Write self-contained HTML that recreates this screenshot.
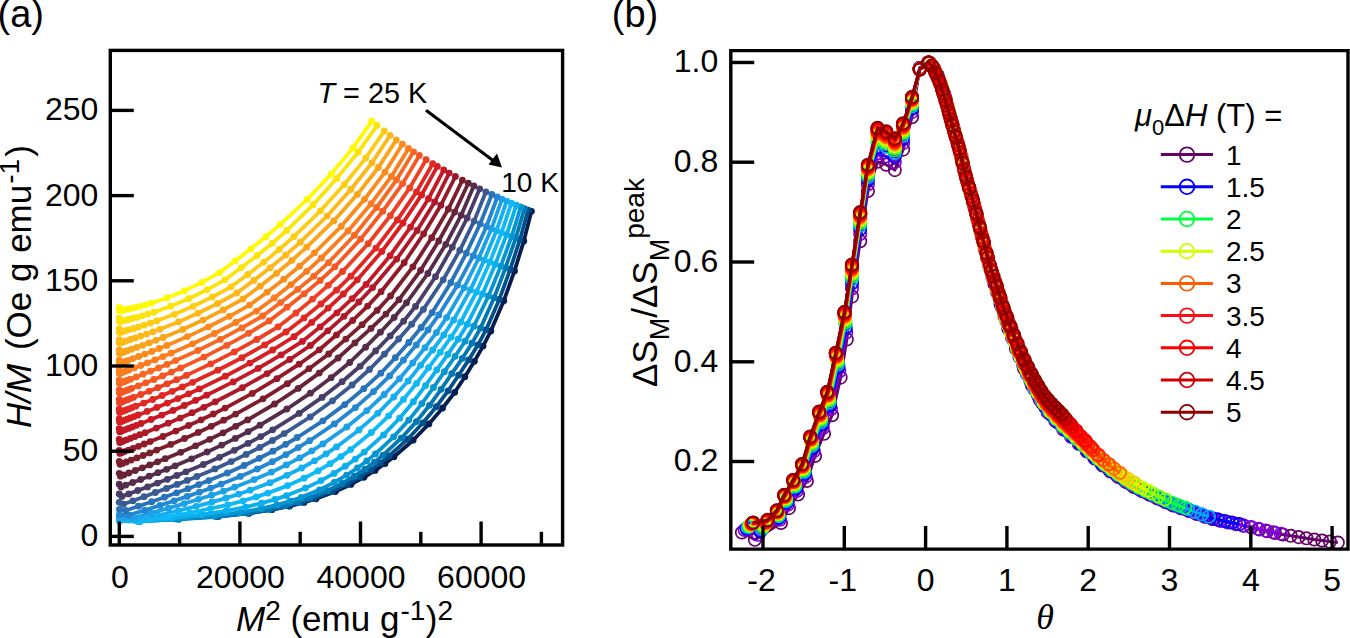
<!DOCTYPE html>
<html><head><meta charset="utf-8"><style>
html,body{margin:0;padding:0;background:#fff;width:1350px;height:638px;overflow:hidden}
svg{display:block}
</style></head><body>
<svg width="1350" height="638" viewBox="0 0 1350 638">
<rect width="1350" height="638" fill="#fff"/>
<g stroke-linejoin="round" stroke-linecap="round">
<path d="M119.4 516.8 L134.8 519.7 L173.3 518.4 L215.8 516.3 L248.4 513.2 L271.9 509.7 L289.7 506.1 L304 502.4 L316 498.8 L335.4 491.5 L350.9 484.4 L363.9 477.3 L375.1 470.4 L385 463.5 L394 456.8 L413.1 440.2 L428.9 423.9 L442.6 408 L454.7 392.3 L464.9 376.7 L474.4 361.3 L483.1 346.1 L490.8 331 L503.8 300.8 L514.5 270.9 L523.8 241.1 L531.4 211.3" fill="none" stroke="#051e50" stroke-width="3.8"/>
<g fill="#051e50"><circle cx="119.4" cy="516.8" r="3.4"/><circle cx="134.8" cy="519.7" r="3.4"/><circle cx="173.3" cy="518.4" r="3.4"/><circle cx="215.8" cy="516.3" r="3.4"/><circle cx="248.4" cy="513.2" r="3.4"/><circle cx="271.9" cy="509.7" r="3.4"/><circle cx="289.7" cy="506.1" r="3.4"/><circle cx="304" cy="502.4" r="3.4"/><circle cx="316" cy="498.8" r="3.4"/><circle cx="335.4" cy="491.5" r="3.4"/><circle cx="350.9" cy="484.4" r="3.4"/><circle cx="363.9" cy="477.3" r="3.4"/><circle cx="375.1" cy="470.4" r="3.4"/><circle cx="385" cy="463.5" r="3.4"/><circle cx="394" cy="456.8" r="3.4"/><circle cx="413.1" cy="440.2" r="3.4"/><circle cx="428.9" cy="423.9" r="3.4"/><circle cx="442.6" cy="408" r="3.4"/><circle cx="454.7" cy="392.3" r="3.4"/><circle cx="464.9" cy="376.7" r="3.4"/><circle cx="474.4" cy="361.3" r="3.4"/><circle cx="483.1" cy="346.1" r="3.4"/><circle cx="490.8" cy="331" r="3.4"/><circle cx="503.8" cy="300.8" r="3.4"/><circle cx="514.5" cy="270.9" r="3.4"/><circle cx="523.8" cy="241.1" r="3.4"/><circle cx="531.4" cy="211.3" r="3.4"/></g>
<path d="M119.4 517.3 L135.8 520.2 L175.7 518.8 L218 516.5 L249.3 513.3 L271.6 509.7 L288.6 506 L302.2 502.3 L313.7 498.5 L332.4 491.2 L347.3 484 L359.9 476.8 L370.8 469.8 L380.4 462.9 L389 456 L407.6 439.2 L423 422.8 L436.3 406.7 L448.1 390.8 L458.6 375.2 L468.7 359.9 L478 344.8 L486.1 329.7 L499.3 299.4 L510.2 269.4 L519.9 239.7 L528.2 210.1" fill="none" stroke="#00508c" stroke-width="3.8"/>
<g fill="#00508c"><circle cx="119.4" cy="517.3" r="3.4"/><circle cx="135.8" cy="520.2" r="3.4"/><circle cx="175.7" cy="518.8" r="3.4"/><circle cx="218" cy="516.5" r="3.4"/><circle cx="249.3" cy="513.3" r="3.4"/><circle cx="271.6" cy="509.7" r="3.4"/><circle cx="288.6" cy="506" r="3.4"/><circle cx="302.2" cy="502.3" r="3.4"/><circle cx="313.7" cy="498.5" r="3.4"/><circle cx="332.4" cy="491.2" r="3.4"/><circle cx="347.3" cy="484" r="3.4"/><circle cx="359.9" cy="476.8" r="3.4"/><circle cx="370.8" cy="469.8" r="3.4"/><circle cx="380.4" cy="462.9" r="3.4"/><circle cx="389" cy="456" r="3.4"/><circle cx="407.6" cy="439.2" r="3.4"/><circle cx="423" cy="422.8" r="3.4"/><circle cx="436.3" cy="406.7" r="3.4"/><circle cx="448.1" cy="390.8" r="3.4"/><circle cx="458.6" cy="375.2" r="3.4"/><circle cx="468.7" cy="359.9" r="3.4"/><circle cx="478" cy="344.8" r="3.4"/><circle cx="486.1" cy="329.7" r="3.4"/><circle cx="499.3" cy="299.4" r="3.4"/><circle cx="510.2" cy="269.4" r="3.4"/><circle cx="519.9" cy="239.7" r="3.4"/><circle cx="528.2" cy="210.1" r="3.4"/></g>
<path d="M119.4 518.5 L138 521.2 L178.9 519.3 L218.7 516.6 L247.7 513.1 L268.8 509.4 L285 505.6 L298.2 501.9 L309.3 498.1 L327.5 490.7 L342.1 483.4 L354.4 476.2 L365.1 469.1 L374.5 462.1 L383 455.1 L401.2 438.2 L416.4 421.6 L429.5 405.3 L441.1 389.3 L451.8 373.6 L462.3 358.3 L472 343.2 L480.5 328.1 L494.1 297.8 L505.5 267.8 L515.7 238.1 L524.5 208.6" fill="none" stroke="#0078b4" stroke-width="3.8"/>
<g fill="#0078b4"><circle cx="119.4" cy="518.5" r="3.4"/><circle cx="138" cy="521.2" r="3.4"/><circle cx="178.9" cy="519.3" r="3.4"/><circle cx="218.7" cy="516.6" r="3.4"/><circle cx="247.7" cy="513.1" r="3.4"/><circle cx="268.8" cy="509.4" r="3.4"/><circle cx="285" cy="505.6" r="3.4"/><circle cx="298.2" cy="501.9" r="3.4"/><circle cx="309.3" cy="498.1" r="3.4"/><circle cx="327.5" cy="490.7" r="3.4"/><circle cx="342.1" cy="483.4" r="3.4"/><circle cx="354.4" cy="476.2" r="3.4"/><circle cx="365.1" cy="469.1" r="3.4"/><circle cx="374.5" cy="462.1" r="3.4"/><circle cx="383" cy="455.1" r="3.4"/><circle cx="401.2" cy="438.2" r="3.4"/><circle cx="416.4" cy="421.6" r="3.4"/><circle cx="429.5" cy="405.3" r="3.4"/><circle cx="441.1" cy="389.3" r="3.4"/><circle cx="451.8" cy="373.6" r="3.4"/><circle cx="462.3" cy="358.3" r="3.4"/><circle cx="472" cy="343.2" r="3.4"/><circle cx="480.5" cy="328.1" r="3.4"/><circle cx="494.1" cy="297.8" r="3.4"/><circle cx="505.5" cy="267.8" r="3.4"/><circle cx="515.7" cy="238.1" r="3.4"/><circle cx="524.5" cy="208.6" r="3.4"/></g>
<path d="M119.4 519.4 L139.3 521.7 L177.8 519.2 L213.5 516 L240.6 512.4 L261 508.7 L277.1 504.9 L290.2 501.1 L301.3 497.3 L319.6 489.8 L334.3 482.4 L346.6 475.1 L357.4 468 L366.8 460.9 L375.4 453.9 L393.6 436.8 L408.8 420.1 L421.9 403.6 L433.5 387.5 L444.4 371.7 L455.1 356.3 L465.1 341.2 L473.9 326.2 L488.5 296 L500.8 266.1 L511.6 236.6 L520.7 207" fill="none" stroke="#0596d2" stroke-width="3.8"/>
<g fill="#0596d2"><circle cx="119.4" cy="519.4" r="3.4"/><circle cx="139.3" cy="521.7" r="3.4"/><circle cx="177.8" cy="519.2" r="3.4"/><circle cx="213.5" cy="516" r="3.4"/><circle cx="240.6" cy="512.4" r="3.4"/><circle cx="261" cy="508.7" r="3.4"/><circle cx="277.1" cy="504.9" r="3.4"/><circle cx="290.2" cy="501.1" r="3.4"/><circle cx="301.3" cy="497.3" r="3.4"/><circle cx="319.6" cy="489.8" r="3.4"/><circle cx="334.3" cy="482.4" r="3.4"/><circle cx="346.6" cy="475.1" r="3.4"/><circle cx="357.4" cy="468" r="3.4"/><circle cx="366.8" cy="460.9" r="3.4"/><circle cx="375.4" cy="453.9" r="3.4"/><circle cx="393.6" cy="436.8" r="3.4"/><circle cx="408.8" cy="420.1" r="3.4"/><circle cx="421.9" cy="403.6" r="3.4"/><circle cx="433.5" cy="387.5" r="3.4"/><circle cx="444.4" cy="371.7" r="3.4"/><circle cx="455.1" cy="356.3" r="3.4"/><circle cx="465.1" cy="341.2" r="3.4"/><circle cx="473.9" cy="326.2" r="3.4"/><circle cx="488.5" cy="296" r="3.4"/><circle cx="500.8" cy="266.1" r="3.4"/><circle cx="511.6" cy="236.6" r="3.4"/><circle cx="520.7" cy="207" r="3.4"/></g>
<path d="M119.5 520.3 L139.5 521.7 L172.4 518.3 L202 514.6 L226.2 510.9 L245.7 507.1 L261.6 503.2 L275 499.4 L286.5 495.6 L305.5 488.1 L321 480.6 L334 473.4 L345.3 466.2 L355.3 459.1 L364.3 452.1 L383.6 434.9 L399.6 418.2 L413.4 401.7 L425.5 385.6 L436.8 369.8 L447.8 354.4 L458.2 339.2 L467.3 324.2 L482.5 294 L495.3 264.2 L506.6 234.6 L516.3 205.2" fill="none" stroke="#0aafeb" stroke-width="3.8"/>
<g fill="#0aafeb"><circle cx="119.5" cy="520.3" r="3.4"/><circle cx="139.5" cy="521.7" r="3.4"/><circle cx="172.4" cy="518.3" r="3.4"/><circle cx="202" cy="514.6" r="3.4"/><circle cx="226.2" cy="510.9" r="3.4"/><circle cx="245.7" cy="507.1" r="3.4"/><circle cx="261.6" cy="503.2" r="3.4"/><circle cx="275" cy="499.4" r="3.4"/><circle cx="286.5" cy="495.6" r="3.4"/><circle cx="305.5" cy="488.1" r="3.4"/><circle cx="321" cy="480.6" r="3.4"/><circle cx="334" cy="473.4" r="3.4"/><circle cx="345.3" cy="466.2" r="3.4"/><circle cx="355.3" cy="459.1" r="3.4"/><circle cx="364.3" cy="452.1" r="3.4"/><circle cx="383.6" cy="434.9" r="3.4"/><circle cx="399.6" cy="418.2" r="3.4"/><circle cx="413.4" cy="401.7" r="3.4"/><circle cx="425.5" cy="385.6" r="3.4"/><circle cx="436.8" cy="369.8" r="3.4"/><circle cx="447.8" cy="354.4" r="3.4"/><circle cx="458.2" cy="339.2" r="3.4"/><circle cx="467.3" cy="324.2" r="3.4"/><circle cx="482.5" cy="294" r="3.4"/><circle cx="495.3" cy="264.2" r="3.4"/><circle cx="506.6" cy="234.6" r="3.4"/><circle cx="516.3" cy="205.2" r="3.4"/></g>
<path d="M119.5 521.2 L138.8 521.5 L165.8 517.1 L189.8 512.8 L210.3 508.7 L227.9 504.8 L243.1 500.8 L256.3 496.9 L267.9 493.1 L287.7 485.6 L304 478.2 L318 470.9 L330.1 463.7 L340.9 456.6 L350.6 449.6 L371.4 432.5 L388.7 415.8 L403.5 399.4 L416.6 383.3 L428.6 367.6 L440.3 352.2 L451.1 337.2 L460.7 322.1 L476.5 292 L489.8 262.1 L501.5 232.6 L511.4 203.2" fill="none" stroke="#0fb9f5" stroke-width="3.8"/>
<g fill="#0fb9f5"><circle cx="119.5" cy="521.2" r="3.4"/><circle cx="138.8" cy="521.5" r="3.4"/><circle cx="165.8" cy="517.1" r="3.4"/><circle cx="189.8" cy="512.8" r="3.4"/><circle cx="210.3" cy="508.7" r="3.4"/><circle cx="227.9" cy="504.8" r="3.4"/><circle cx="243.1" cy="500.8" r="3.4"/><circle cx="256.3" cy="496.9" r="3.4"/><circle cx="267.9" cy="493.1" r="3.4"/><circle cx="287.7" cy="485.6" r="3.4"/><circle cx="304" cy="478.2" r="3.4"/><circle cx="318" cy="470.9" r="3.4"/><circle cx="330.1" cy="463.7" r="3.4"/><circle cx="340.9" cy="456.6" r="3.4"/><circle cx="350.6" cy="449.6" r="3.4"/><circle cx="371.4" cy="432.5" r="3.4"/><circle cx="388.7" cy="415.8" r="3.4"/><circle cx="403.5" cy="399.4" r="3.4"/><circle cx="416.6" cy="383.3" r="3.4"/><circle cx="428.6" cy="367.6" r="3.4"/><circle cx="440.3" cy="352.2" r="3.4"/><circle cx="451.1" cy="337.2" r="3.4"/><circle cx="460.7" cy="322.1" r="3.4"/><circle cx="476.5" cy="292" r="3.4"/><circle cx="489.8" cy="262.1" r="3.4"/><circle cx="501.5" cy="232.6" r="3.4"/><circle cx="511.4" cy="203.2" r="3.4"/></g>
<path d="M119.5 520.5 L136 520.3 L158.4 515.3 L178.4 510.7 L196.2 506.3 L211.9 502.1 L226 498.1 L238.6 494.1 L250.1 490.2 L270 482.7 L286.9 475.3 L301.6 468 L314.5 460.8 L326.1 453.8 L336.5 446.9 L359 429.9 L377.7 413.3 L393.8 397 L408 381.1 L420.6 365.3 L432.7 350 L443.8 334.9 L453.7 319.9 L470.4 289.9 L484.3 260.1 L496.5 230.6 L506.7 201.1" fill="none" stroke="#14aff0" stroke-width="3.8"/>
<g fill="#14aff0"><circle cx="119.5" cy="520.5" r="3.4"/><circle cx="136" cy="520.3" r="3.4"/><circle cx="158.4" cy="515.3" r="3.4"/><circle cx="178.4" cy="510.7" r="3.4"/><circle cx="196.2" cy="506.3" r="3.4"/><circle cx="211.9" cy="502.1" r="3.4"/><circle cx="226" cy="498.1" r="3.4"/><circle cx="238.6" cy="494.1" r="3.4"/><circle cx="250.1" cy="490.2" r="3.4"/><circle cx="270" cy="482.7" r="3.4"/><circle cx="286.9" cy="475.3" r="3.4"/><circle cx="301.6" cy="468" r="3.4"/><circle cx="314.5" cy="460.8" r="3.4"/><circle cx="326.1" cy="453.8" r="3.4"/><circle cx="336.5" cy="446.9" r="3.4"/><circle cx="359" cy="429.9" r="3.4"/><circle cx="377.7" cy="413.3" r="3.4"/><circle cx="393.8" cy="397" r="3.4"/><circle cx="408" cy="381.1" r="3.4"/><circle cx="420.6" cy="365.3" r="3.4"/><circle cx="432.7" cy="350" r="3.4"/><circle cx="443.8" cy="334.9" r="3.4"/><circle cx="453.7" cy="319.9" r="3.4"/><circle cx="470.4" cy="289.9" r="3.4"/><circle cx="484.3" cy="260.1" r="3.4"/><circle cx="496.5" cy="230.6" r="3.4"/><circle cx="506.7" cy="201.1" r="3.4"/></g>
<path d="M119.4 518.2 L132.2 518.1 L151.1 513 L168.4 508.2 L184.2 503.6 L198.5 499.3 L211.5 495.2 L223.5 491.2 L234.5 487.2 L254.2 479.6 L271.3 472.2 L286.3 464.9 L299.8 457.8 L311.9 450.8 L322.9 443.9 L346.8 427 L366.9 410.6 L384.2 394.5 L399.5 378.7 L412.7 363 L425 347.7 L436.4 332.6 L446.6 317.6 L464.1 287.7 L478.8 258 L491.5 228.6 L502 199.1" fill="none" stroke="#1ea0e6" stroke-width="3.8"/>
<g fill="#1ea0e6"><circle cx="119.4" cy="518.2" r="3.4"/><circle cx="132.2" cy="518.1" r="3.4"/><circle cx="151.1" cy="513" r="3.4"/><circle cx="168.4" cy="508.2" r="3.4"/><circle cx="184.2" cy="503.6" r="3.4"/><circle cx="198.5" cy="499.3" r="3.4"/><circle cx="211.5" cy="495.2" r="3.4"/><circle cx="223.5" cy="491.2" r="3.4"/><circle cx="234.5" cy="487.2" r="3.4"/><circle cx="254.2" cy="479.6" r="3.4"/><circle cx="271.3" cy="472.2" r="3.4"/><circle cx="286.3" cy="464.9" r="3.4"/><circle cx="299.8" cy="457.8" r="3.4"/><circle cx="311.9" cy="450.8" r="3.4"/><circle cx="322.9" cy="443.9" r="3.4"/><circle cx="346.8" cy="427" r="3.4"/><circle cx="366.9" cy="410.6" r="3.4"/><circle cx="384.2" cy="394.5" r="3.4"/><circle cx="399.5" cy="378.7" r="3.4"/><circle cx="412.7" cy="363" r="3.4"/><circle cx="425" cy="347.7" r="3.4"/><circle cx="436.4" cy="332.6" r="3.4"/><circle cx="446.6" cy="317.6" r="3.4"/><circle cx="464.1" cy="287.7" r="3.4"/><circle cx="478.8" cy="258" r="3.4"/><circle cx="491.5" cy="228.6" r="3.4"/><circle cx="502" cy="199.1" r="3.4"/></g>
<path d="M119.3 514.6 L128.8 515.1 L144.6 510.2 L159.9 505.4 L174.1 500.8 L187.2 496.4 L199.3 492.2 L210.6 488.1 L221.2 484.1 L240.3 476.4 L257.2 469 L272.3 461.7 L285.9 454.6 L298.2 447.6 L309.6 440.7 L334.4 423.9 L355.4 407.6 L373.6 391.6 L389.7 375.9 L403.4 360.2 L416.3 344.9 L428.1 329.9 L438.8 314.9 L457.5 285.2 L473.2 255.8 L486.5 226.5 L497.3 197" fill="none" stroke="#2387d2" stroke-width="3.8"/>
<g fill="#2387d2"><circle cx="119.3" cy="514.6" r="3.4"/><circle cx="128.8" cy="515.1" r="3.4"/><circle cx="144.6" cy="510.2" r="3.4"/><circle cx="159.9" cy="505.4" r="3.4"/><circle cx="174.1" cy="500.8" r="3.4"/><circle cx="187.2" cy="496.4" r="3.4"/><circle cx="199.3" cy="492.2" r="3.4"/><circle cx="210.6" cy="488.1" r="3.4"/><circle cx="221.2" cy="484.1" r="3.4"/><circle cx="240.3" cy="476.4" r="3.4"/><circle cx="257.2" cy="469" r="3.4"/><circle cx="272.3" cy="461.7" r="3.4"/><circle cx="285.9" cy="454.6" r="3.4"/><circle cx="298.2" cy="447.6" r="3.4"/><circle cx="309.6" cy="440.7" r="3.4"/><circle cx="334.4" cy="423.9" r="3.4"/><circle cx="355.4" cy="407.6" r="3.4"/><circle cx="373.6" cy="391.6" r="3.4"/><circle cx="389.7" cy="375.9" r="3.4"/><circle cx="403.4" cy="360.2" r="3.4"/><circle cx="416.3" cy="344.9" r="3.4"/><circle cx="428.1" cy="329.9" r="3.4"/><circle cx="438.8" cy="314.9" r="3.4"/><circle cx="457.5" cy="285.2" r="3.4"/><circle cx="473.2" cy="255.8" r="3.4"/><circle cx="486.5" cy="226.5" r="3.4"/><circle cx="497.3" cy="197" r="3.4"/></g>
<path d="M119.3 509.3 L125.7 510.5 L138.3 506.2 L151.7 501.7 L164.5 497.2 L176.6 492.8 L188 488.7 L198.7 484.6 L208.8 480.6 L227.4 473 L244.1 465.5 L259.2 458.3 L272.9 451.2 L285.6 444.3 L297.2 437.5 L322.9 420.8 L344.7 404.6 L363.8 388.7 L380.8 373.2 L395.3 357.7 L408.8 342.5 L421.2 327.5 L432.2 312.6 L450.8 282.7 L466.4 253.1 L480.2 223.8 L491.8 194.5" fill="none" stroke="#2873b9" stroke-width="3.8"/>
<g fill="#2873b9"><circle cx="119.3" cy="509.3" r="3.4"/><circle cx="125.7" cy="510.5" r="3.4"/><circle cx="138.3" cy="506.2" r="3.4"/><circle cx="151.7" cy="501.7" r="3.4"/><circle cx="164.5" cy="497.2" r="3.4"/><circle cx="176.6" cy="492.8" r="3.4"/><circle cx="188" cy="488.7" r="3.4"/><circle cx="198.7" cy="484.6" r="3.4"/><circle cx="208.8" cy="480.6" r="3.4"/><circle cx="227.4" cy="473" r="3.4"/><circle cx="244.1" cy="465.5" r="3.4"/><circle cx="259.2" cy="458.3" r="3.4"/><circle cx="272.9" cy="451.2" r="3.4"/><circle cx="285.6" cy="444.3" r="3.4"/><circle cx="297.2" cy="437.5" r="3.4"/><circle cx="322.9" cy="420.8" r="3.4"/><circle cx="344.7" cy="404.6" r="3.4"/><circle cx="363.8" cy="388.7" r="3.4"/><circle cx="380.8" cy="373.2" r="3.4"/><circle cx="395.3" cy="357.7" r="3.4"/><circle cx="408.8" cy="342.5" r="3.4"/><circle cx="421.2" cy="327.5" r="3.4"/><circle cx="432.2" cy="312.6" r="3.4"/><circle cx="450.8" cy="282.7" r="3.4"/><circle cx="466.4" cy="253.1" r="3.4"/><circle cx="480.2" cy="223.8" r="3.4"/><circle cx="491.8" cy="194.5" r="3.4"/></g>
<path d="M119.2 502.3 L123.4 504.2 L132.9 500.8 L144.1 496.7 L155.4 492.5 L166.5 488.4 L177.1 484.4 L187.2 480.4 L196.9 476.5 L214.9 468.9 L231.2 461.6 L246.1 454.4 L259.8 447.4 L272.5 440.5 L284.2 433.6 L310.2 417 L332.5 400.8 L352.1 385 L369.5 369.5 L384.5 354.1 L398.7 339 L411.7 324.2 L423.4 309.4 L443.2 279.8 L459.8 250.3 L474.1 221.1 L485.9 191.8" fill="none" stroke="#3a5a94" stroke-width="3.8"/>
<g fill="#3a5a94"><circle cx="119.2" cy="502.3" r="3.4"/><circle cx="123.4" cy="504.2" r="3.4"/><circle cx="132.9" cy="500.8" r="3.4"/><circle cx="144.1" cy="496.7" r="3.4"/><circle cx="155.4" cy="492.5" r="3.4"/><circle cx="166.5" cy="488.4" r="3.4"/><circle cx="177.1" cy="484.4" r="3.4"/><circle cx="187.2" cy="480.4" r="3.4"/><circle cx="196.9" cy="476.5" r="3.4"/><circle cx="214.9" cy="468.9" r="3.4"/><circle cx="231.2" cy="461.6" r="3.4"/><circle cx="246.1" cy="454.4" r="3.4"/><circle cx="259.8" cy="447.4" r="3.4"/><circle cx="272.5" cy="440.5" r="3.4"/><circle cx="284.2" cy="433.6" r="3.4"/><circle cx="310.2" cy="417" r="3.4"/><circle cx="332.5" cy="400.8" r="3.4"/><circle cx="352.1" cy="385" r="3.4"/><circle cx="369.5" cy="369.5" r="3.4"/><circle cx="384.5" cy="354.1" r="3.4"/><circle cx="398.7" cy="339" r="3.4"/><circle cx="411.7" cy="324.2" r="3.4"/><circle cx="423.4" cy="309.4" r="3.4"/><circle cx="443.2" cy="279.8" r="3.4"/><circle cx="459.8" cy="250.3" r="3.4"/><circle cx="474.1" cy="221.1" r="3.4"/><circle cx="485.9" cy="191.8" r="3.4"/></g>
<path d="M119.2 494 L121.9 496.4 L128.8 493.9 L137.8 490.5 L147.6 486.9 L157.5 483.1 L167.3 479.3 L176.8 475.5 L186 471.8 L203.4 464.5 L219.5 457.3 L234.3 450.3 L248 443.4 L260.7 436.6 L272.6 429.8 L299.1 413.4 L322 397.4 L342.1 381.7 L360.1 366.3 L375.6 350.9 L390.2 335.9 L403.6 321.2 L415.5 306.4 L435.5 276.7 L452.3 247.1 L467.2 218 L479.7 188.8" fill="none" stroke="#483e69" stroke-width="3.8"/>
<g fill="#483e69"><circle cx="119.2" cy="494" r="3.4"/><circle cx="121.9" cy="496.4" r="3.4"/><circle cx="128.8" cy="493.9" r="3.4"/><circle cx="137.8" cy="490.5" r="3.4"/><circle cx="147.6" cy="486.9" r="3.4"/><circle cx="157.5" cy="483.1" r="3.4"/><circle cx="167.3" cy="479.3" r="3.4"/><circle cx="176.8" cy="475.5" r="3.4"/><circle cx="186" cy="471.8" r="3.4"/><circle cx="203.4" cy="464.5" r="3.4"/><circle cx="219.5" cy="457.3" r="3.4"/><circle cx="234.3" cy="450.3" r="3.4"/><circle cx="248" cy="443.4" r="3.4"/><circle cx="260.7" cy="436.6" r="3.4"/><circle cx="272.6" cy="429.8" r="3.4"/><circle cx="299.1" cy="413.4" r="3.4"/><circle cx="322" cy="397.4" r="3.4"/><circle cx="342.1" cy="381.7" r="3.4"/><circle cx="360.1" cy="366.3" r="3.4"/><circle cx="375.6" cy="350.9" r="3.4"/><circle cx="390.2" cy="335.9" r="3.4"/><circle cx="403.6" cy="321.2" r="3.4"/><circle cx="415.5" cy="306.4" r="3.4"/><circle cx="435.5" cy="276.7" r="3.4"/><circle cx="452.3" cy="247.1" r="3.4"/><circle cx="467.2" cy="218" r="3.4"/><circle cx="479.7" cy="188.8" r="3.4"/></g>
<path d="M119.2 484.2 L121 487 L125.8 485.1 L132.7 482.5 L140.7 479.5 L149.2 476.2 L157.9 472.7 L166.6 469.3 L175.1 465.8 L191.6 458.8 L207.1 452 L221.7 445.1 L235.3 438.4 L248.1 431.7 L260 425.2 L286.9 409 L310.4 393.2 L331.1 377.7 L349.7 362.5 L365.6 347.2 L380.4 332.2 L394.1 317.5 L406.5 302.8 L427.9 273.5 L445.8 244.3 L461.2 215.2 L473.8 185.9" fill="none" stroke="#552d4b" stroke-width="3.8"/>
<g fill="#552d4b"><circle cx="119.2" cy="484.2" r="3.4"/><circle cx="121" cy="487" r="3.4"/><circle cx="125.8" cy="485.1" r="3.4"/><circle cx="132.7" cy="482.5" r="3.4"/><circle cx="140.7" cy="479.5" r="3.4"/><circle cx="149.2" cy="476.2" r="3.4"/><circle cx="157.9" cy="472.7" r="3.4"/><circle cx="166.6" cy="469.3" r="3.4"/><circle cx="175.1" cy="465.8" r="3.4"/><circle cx="191.6" cy="458.8" r="3.4"/><circle cx="207.1" cy="452" r="3.4"/><circle cx="221.7" cy="445.1" r="3.4"/><circle cx="235.3" cy="438.4" r="3.4"/><circle cx="248.1" cy="431.7" r="3.4"/><circle cx="260" cy="425.2" r="3.4"/><circle cx="286.9" cy="409" r="3.4"/><circle cx="310.4" cy="393.2" r="3.4"/><circle cx="331.1" cy="377.7" r="3.4"/><circle cx="349.7" cy="362.5" r="3.4"/><circle cx="365.6" cy="347.2" r="3.4"/><circle cx="380.4" cy="332.2" r="3.4"/><circle cx="394.1" cy="317.5" r="3.4"/><circle cx="406.5" cy="302.8" r="3.4"/><circle cx="427.9" cy="273.5" r="3.4"/><circle cx="445.8" cy="244.3" r="3.4"/><circle cx="461.2" cy="215.2" r="3.4"/><circle cx="473.8" cy="185.9" r="3.4"/></g>
<path d="M119.2 473.3 L120.4 476.2 L123.8 474.9 L128.9 473 L135.3 470.5 L142.3 467.8 L149.8 464.9 L157.6 461.8 L165.3 458.7 L180.7 452.3 L195.6 445.8 L209.7 439.3 L223.1 432.8 L235.7 426.3 L247.6 419.9 L274.6 404 L298.2 388.4 L319.2 373.1 L338.1 358 L354.9 342.9 L371 328.4 L385.9 314.1 L399 299.7 L420.6 270.3 L438.7 241 L454.7 212.1 L468.3 183.2" fill="none" stroke="#692337" stroke-width="3.8"/>
<g fill="#692337"><circle cx="119.2" cy="473.3" r="3.4"/><circle cx="120.4" cy="476.2" r="3.4"/><circle cx="123.8" cy="474.9" r="3.4"/><circle cx="128.9" cy="473" r="3.4"/><circle cx="135.3" cy="470.5" r="3.4"/><circle cx="142.3" cy="467.8" r="3.4"/><circle cx="149.8" cy="464.9" r="3.4"/><circle cx="157.6" cy="461.8" r="3.4"/><circle cx="165.3" cy="458.7" r="3.4"/><circle cx="180.7" cy="452.3" r="3.4"/><circle cx="195.6" cy="445.8" r="3.4"/><circle cx="209.7" cy="439.3" r="3.4"/><circle cx="223.1" cy="432.8" r="3.4"/><circle cx="235.7" cy="426.3" r="3.4"/><circle cx="247.6" cy="419.9" r="3.4"/><circle cx="274.6" cy="404" r="3.4"/><circle cx="298.2" cy="388.4" r="3.4"/><circle cx="319.2" cy="373.1" r="3.4"/><circle cx="338.1" cy="358" r="3.4"/><circle cx="354.9" cy="342.9" r="3.4"/><circle cx="371" cy="328.4" r="3.4"/><circle cx="385.9" cy="314.1" r="3.4"/><circle cx="399" cy="299.7" r="3.4"/><circle cx="420.6" cy="270.3" r="3.4"/><circle cx="438.7" cy="241" r="3.4"/><circle cx="454.7" cy="212.1" r="3.4"/><circle cx="468.3" cy="183.2" r="3.4"/></g>
<path d="M119.2 461.3 L120 464.3 L122.5 463.4 L126.3 462 L131.2 460.1 L136.9 457.9 L143.1 455.5 L149.8 452.9 L156.7 450.1 L170.7 444.4 L184.6 438.5 L198.2 432.4 L211.2 426.3 L223.7 420.2 L235.6 414.1 L263 398.8 L287.3 383.7 L309 368.7 L328.7 354 L345.8 339.1 L362.1 324.7 L377.1 310.4 L390.5 296 L412.9 266.8 L431.7 237.7 L448.4 209 L462.4 180.2" fill="none" stroke="#7d1e2d" stroke-width="3.8"/>
<g fill="#7d1e2d"><circle cx="119.2" cy="461.3" r="3.4"/><circle cx="120" cy="464.3" r="3.4"/><circle cx="122.5" cy="463.4" r="3.4"/><circle cx="126.3" cy="462" r="3.4"/><circle cx="131.2" cy="460.1" r="3.4"/><circle cx="136.9" cy="457.9" r="3.4"/><circle cx="143.1" cy="455.5" r="3.4"/><circle cx="149.8" cy="452.9" r="3.4"/><circle cx="156.7" cy="450.1" r="3.4"/><circle cx="170.7" cy="444.4" r="3.4"/><circle cx="184.6" cy="438.5" r="3.4"/><circle cx="198.2" cy="432.4" r="3.4"/><circle cx="211.2" cy="426.3" r="3.4"/><circle cx="223.7" cy="420.2" r="3.4"/><circle cx="235.6" cy="414.1" r="3.4"/><circle cx="263" cy="398.8" r="3.4"/><circle cx="287.3" cy="383.7" r="3.4"/><circle cx="309" cy="368.7" r="3.4"/><circle cx="328.7" cy="354" r="3.4"/><circle cx="345.8" cy="339.1" r="3.4"/><circle cx="362.1" cy="324.7" r="3.4"/><circle cx="377.1" cy="310.4" r="3.4"/><circle cx="390.5" cy="296" r="3.4"/><circle cx="412.9" cy="266.8" r="3.4"/><circle cx="431.7" cy="237.7" r="3.4"/><circle cx="448.4" cy="209" r="3.4"/><circle cx="462.4" cy="180.2" r="3.4"/></g>
<path d="M119.2 450.3 L119.8 453.4 L121.7 452.7 L124.6 451.6 L128.6 450.1 L133.2 448.3 L138.5 446.3 L144.2 444 L150.2 441.6 L162.9 436.5 L175.8 431.1 L188.6 425.5 L201.2 419.8 L213.3 414 L225.1 408.1 L252.3 393.4 L276.9 378.7 L299.1 364.2 L319.3 349.8 L336.5 334.9 L352.7 320.5 L367.6 306.1 L381.1 291.7 L404.2 262.7 L423.7 233.8 L440.9 205.2 L455.4 176.5" fill="none" stroke="#961928" stroke-width="3.8"/>
<g fill="#961928"><circle cx="119.2" cy="450.3" r="3.4"/><circle cx="119.8" cy="453.4" r="3.4"/><circle cx="121.7" cy="452.7" r="3.4"/><circle cx="124.6" cy="451.6" r="3.4"/><circle cx="128.6" cy="450.1" r="3.4"/><circle cx="133.2" cy="448.3" r="3.4"/><circle cx="138.5" cy="446.3" r="3.4"/><circle cx="144.2" cy="444" r="3.4"/><circle cx="150.2" cy="441.6" r="3.4"/><circle cx="162.9" cy="436.5" r="3.4"/><circle cx="175.8" cy="431.1" r="3.4"/><circle cx="188.6" cy="425.5" r="3.4"/><circle cx="201.2" cy="419.8" r="3.4"/><circle cx="213.3" cy="414" r="3.4"/><circle cx="225.1" cy="408.1" r="3.4"/><circle cx="252.3" cy="393.4" r="3.4"/><circle cx="276.9" cy="378.7" r="3.4"/><circle cx="299.1" cy="364.2" r="3.4"/><circle cx="319.3" cy="349.8" r="3.4"/><circle cx="336.5" cy="334.9" r="3.4"/><circle cx="352.7" cy="320.5" r="3.4"/><circle cx="367.6" cy="306.1" r="3.4"/><circle cx="381.1" cy="291.7" r="3.4"/><circle cx="404.2" cy="262.7" r="3.4"/><circle cx="423.7" cy="233.8" r="3.4"/><circle cx="440.9" cy="205.2" r="3.4"/><circle cx="455.4" cy="176.5" r="3.4"/></g>
<path d="M119.2 439.3 L119.7 442.5 L121.2 441.9 L123.5 441 L126.7 439.8 L130.5 438.3 L135 436.6 L139.8 434.7 L145.1 432.7 L156.4 428.1 L168.2 423.2 L180.2 418.1 L192.1 412.7 L203.9 407.3 L215.3 401.8 L242.3 387.7 L267.1 373.6 L289.7 359.5 L310.4 345.5 L327.8 330.8 L344 316.3 L358.9 302 L372.6 287.6 L396.7 259.1 L417.1 230.5 L434.7 202 L449.2 173.1" fill="none" stroke="#af1928" stroke-width="3.8"/>
<g fill="#af1928"><circle cx="119.2" cy="439.3" r="3.4"/><circle cx="119.7" cy="442.5" r="3.4"/><circle cx="121.2" cy="441.9" r="3.4"/><circle cx="123.5" cy="441" r="3.4"/><circle cx="126.7" cy="439.8" r="3.4"/><circle cx="130.5" cy="438.3" r="3.4"/><circle cx="135" cy="436.6" r="3.4"/><circle cx="139.8" cy="434.7" r="3.4"/><circle cx="145.1" cy="432.7" r="3.4"/><circle cx="156.4" cy="428.1" r="3.4"/><circle cx="168.2" cy="423.2" r="3.4"/><circle cx="180.2" cy="418.1" r="3.4"/><circle cx="192.1" cy="412.7" r="3.4"/><circle cx="203.9" cy="407.3" r="3.4"/><circle cx="215.3" cy="401.8" r="3.4"/><circle cx="242.3" cy="387.7" r="3.4"/><circle cx="267.1" cy="373.6" r="3.4"/><circle cx="289.7" cy="359.5" r="3.4"/><circle cx="310.4" cy="345.5" r="3.4"/><circle cx="327.8" cy="330.8" r="3.4"/><circle cx="344" cy="316.3" r="3.4"/><circle cx="358.9" cy="302" r="3.4"/><circle cx="372.6" cy="287.6" r="3.4"/><circle cx="396.7" cy="259.1" r="3.4"/><circle cx="417.1" cy="230.5" r="3.4"/><circle cx="434.7" cy="202" r="3.4"/><circle cx="449.2" cy="173.1" r="3.4"/></g>
<path d="M119.2 428.6 L119.6 431.8 L120.8 431.4 L122.7 430.6 L125.3 429.6 L128.5 428.4 L132.3 427 L136.5 425.3 L141.1 423.5 L151.1 419.5 L161.8 415.1 L173 410.4 L184.3 405.5 L195.5 400.4 L206.6 395.2 L233.2 381.9 L258.1 368.4 L281.1 354.9 L302.4 341.4 L320.2 326.9 L336.9 312.8 L352.2 298.6 L366.1 284.4 L390.1 255.7 L410.5 227.1 L428.5 198.7 L443.7 170" fill="none" stroke="#c61926" stroke-width="3.8"/>
<g fill="#c61926"><circle cx="119.2" cy="428.6" r="3.4"/><circle cx="119.6" cy="431.8" r="3.4"/><circle cx="120.8" cy="431.4" r="3.4"/><circle cx="122.7" cy="430.6" r="3.4"/><circle cx="125.3" cy="429.6" r="3.4"/><circle cx="128.5" cy="428.4" r="3.4"/><circle cx="132.3" cy="427" r="3.4"/><circle cx="136.5" cy="425.3" r="3.4"/><circle cx="141.1" cy="423.5" r="3.4"/><circle cx="151.1" cy="419.5" r="3.4"/><circle cx="161.8" cy="415.1" r="3.4"/><circle cx="173" cy="410.4" r="3.4"/><circle cx="184.3" cy="405.5" r="3.4"/><circle cx="195.5" cy="400.4" r="3.4"/><circle cx="206.6" cy="395.2" r="3.4"/><circle cx="233.2" cy="381.9" r="3.4"/><circle cx="258.1" cy="368.4" r="3.4"/><circle cx="281.1" cy="354.9" r="3.4"/><circle cx="302.4" cy="341.4" r="3.4"/><circle cx="320.2" cy="326.9" r="3.4"/><circle cx="336.9" cy="312.8" r="3.4"/><circle cx="352.2" cy="298.6" r="3.4"/><circle cx="366.1" cy="284.4" r="3.4"/><circle cx="390.1" cy="255.7" r="3.4"/><circle cx="410.5" cy="227.1" r="3.4"/><circle cx="428.5" cy="198.7" r="3.4"/><circle cx="443.7" cy="170" r="3.4"/></g>
<path d="M119.2 418.9 L119.5 422.1 L120.5 421.8 L122.2 421.1 L124.4 420.3 L127.1 419.2 L130.4 418 L134.1 416.6 L138.1 415 L147.1 411.4 L156.9 407.4 L167.3 403.1 L177.9 398.6 L188.6 393.8 L199.3 388.9 L225.3 376.2 L249.8 363.1 L272.7 350 L294 336.7 L311.7 322.4 L328.2 308.1 L343.4 294 L357.3 279.8 L381.9 251.4 L403 223 L421.6 194.9 L437.4 166.4" fill="none" stroke="#d71e23" stroke-width="3.8"/>
<g fill="#d71e23"><circle cx="119.2" cy="418.9" r="3.4"/><circle cx="119.5" cy="422.1" r="3.4"/><circle cx="120.5" cy="421.8" r="3.4"/><circle cx="122.2" cy="421.1" r="3.4"/><circle cx="124.4" cy="420.3" r="3.4"/><circle cx="127.1" cy="419.2" r="3.4"/><circle cx="130.4" cy="418" r="3.4"/><circle cx="134.1" cy="416.6" r="3.4"/><circle cx="138.1" cy="415" r="3.4"/><circle cx="147.1" cy="411.4" r="3.4"/><circle cx="156.9" cy="407.4" r="3.4"/><circle cx="167.3" cy="403.1" r="3.4"/><circle cx="177.9" cy="398.6" r="3.4"/><circle cx="188.6" cy="393.8" r="3.4"/><circle cx="199.3" cy="388.9" r="3.4"/><circle cx="225.3" cy="376.2" r="3.4"/><circle cx="249.8" cy="363.1" r="3.4"/><circle cx="272.7" cy="350" r="3.4"/><circle cx="294" cy="336.7" r="3.4"/><circle cx="311.7" cy="322.4" r="3.4"/><circle cx="328.2" cy="308.1" r="3.4"/><circle cx="343.4" cy="294" r="3.4"/><circle cx="357.3" cy="279.8" r="3.4"/><circle cx="381.9" cy="251.4" r="3.4"/><circle cx="403" cy="223" r="3.4"/><circle cx="421.6" cy="194.9" r="3.4"/><circle cx="437.4" cy="166.4" r="3.4"/></g>
<path d="M119.2 409.2 L119.5 412.5 L120.3 412.1 L121.7 411.6 L123.6 410.9 L126 410 L128.8 408.9 L132.1 407.6 L135.7 406.2 L143.7 403.1 L152.7 399.5 L162.2 395.5 L172.2 391.3 L182.3 386.9 L192.6 382.3 L217.8 370.2 L241.9 357.7 L264.7 344.9 L286 332 L304 317.9 L320.9 304 L336.5 290.2 L350.8 276.2 L375.9 248.1 L397.4 219.9 L416.5 191.9 L432.7 163.7" fill="none" stroke="#e12823" stroke-width="3.8"/>
<g fill="#e12823"><circle cx="119.2" cy="409.2" r="3.4"/><circle cx="119.5" cy="412.5" r="3.4"/><circle cx="120.3" cy="412.1" r="3.4"/><circle cx="121.7" cy="411.6" r="3.4"/><circle cx="123.6" cy="410.9" r="3.4"/><circle cx="126" cy="410" r="3.4"/><circle cx="128.8" cy="408.9" r="3.4"/><circle cx="132.1" cy="407.6" r="3.4"/><circle cx="135.7" cy="406.2" r="3.4"/><circle cx="143.7" cy="403.1" r="3.4"/><circle cx="152.7" cy="399.5" r="3.4"/><circle cx="162.2" cy="395.5" r="3.4"/><circle cx="172.2" cy="391.3" r="3.4"/><circle cx="182.3" cy="386.9" r="3.4"/><circle cx="192.6" cy="382.3" r="3.4"/><circle cx="217.8" cy="370.2" r="3.4"/><circle cx="241.9" cy="357.7" r="3.4"/><circle cx="264.7" cy="344.9" r="3.4"/><circle cx="286" cy="332" r="3.4"/><circle cx="304" cy="317.9" r="3.4"/><circle cx="320.9" cy="304" r="3.4"/><circle cx="336.5" cy="290.2" r="3.4"/><circle cx="350.8" cy="276.2" r="3.4"/><circle cx="375.9" cy="248.1" r="3.4"/><circle cx="397.4" cy="219.9" r="3.4"/><circle cx="416.5" cy="191.9" r="3.4"/><circle cx="432.7" cy="163.7" r="3.4"/></g>
<path d="M119.2 399.5 L119.4 402.8 L120.2 402.5 L121.4 402 L123 401.4 L125.1 400.6 L127.6 399.7 L130.4 398.6 L133.6 397.3 L140.8 394.5 L149 391.3 L157.8 387.7 L167.1 383.8 L176.7 379.7 L186.4 375.4 L210.7 363.9 L234.3 351.9 L256.8 339.5 L278 326.9 L295.9 313 L312.6 299.1 L328.2 285.3 L342.6 271.5 L368.2 243.7 L390.3 215.7 L409.7 187.9 L426.1 159.7" fill="none" stroke="#ee4123" stroke-width="3.8"/>
<g fill="#ee4123"><circle cx="119.2" cy="399.5" r="3.4"/><circle cx="119.4" cy="402.8" r="3.4"/><circle cx="120.2" cy="402.5" r="3.4"/><circle cx="121.4" cy="402" r="3.4"/><circle cx="123" cy="401.4" r="3.4"/><circle cx="125.1" cy="400.6" r="3.4"/><circle cx="127.6" cy="399.7" r="3.4"/><circle cx="130.4" cy="398.6" r="3.4"/><circle cx="133.6" cy="397.3" r="3.4"/><circle cx="140.8" cy="394.5" r="3.4"/><circle cx="149" cy="391.3" r="3.4"/><circle cx="157.8" cy="387.7" r="3.4"/><circle cx="167.1" cy="383.8" r="3.4"/><circle cx="176.7" cy="379.7" r="3.4"/><circle cx="186.4" cy="375.4" r="3.4"/><circle cx="210.7" cy="363.9" r="3.4"/><circle cx="234.3" cy="351.9" r="3.4"/><circle cx="256.8" cy="339.5" r="3.4"/><circle cx="278" cy="326.9" r="3.4"/><circle cx="295.9" cy="313" r="3.4"/><circle cx="312.6" cy="299.1" r="3.4"/><circle cx="328.2" cy="285.3" r="3.4"/><circle cx="342.6" cy="271.5" r="3.4"/><circle cx="368.2" cy="243.7" r="3.4"/><circle cx="390.3" cy="215.7" r="3.4"/><circle cx="409.7" cy="187.9" r="3.4"/><circle cx="426.1" cy="159.7" r="3.4"/></g>
<path d="M119.2 389.8 L119.4 393.1 L120 392.8 L121.1 392.4 L122.5 391.9 L124.4 391.2 L126.6 390.4 L129.1 389.4 L131.9 388.3 L138.4 385.8 L145.8 382.8 L153.9 379.5 L162.5 375.9 L171.5 372.1 L180.6 368 L203.9 357.1 L226.7 345.4 L248.5 333.3 L269.2 320.9 L287.1 307.2 L304.2 293.8 L320.2 280.4 L334.9 266.8 L360.6 239.1 L382.8 211.2 L402.6 183.6 L419.4 155.5" fill="none" stroke="#f55823" stroke-width="3.8"/>
<g fill="#f55823"><circle cx="119.2" cy="389.8" r="3.4"/><circle cx="119.4" cy="393.1" r="3.4"/><circle cx="120" cy="392.8" r="3.4"/><circle cx="121.1" cy="392.4" r="3.4"/><circle cx="122.5" cy="391.9" r="3.4"/><circle cx="124.4" cy="391.2" r="3.4"/><circle cx="126.6" cy="390.4" r="3.4"/><circle cx="129.1" cy="389.4" r="3.4"/><circle cx="131.9" cy="388.3" r="3.4"/><circle cx="138.4" cy="385.8" r="3.4"/><circle cx="145.8" cy="382.8" r="3.4"/><circle cx="153.9" cy="379.5" r="3.4"/><circle cx="162.5" cy="375.9" r="3.4"/><circle cx="171.5" cy="372.1" r="3.4"/><circle cx="180.6" cy="368" r="3.4"/><circle cx="203.9" cy="357.1" r="3.4"/><circle cx="226.7" cy="345.4" r="3.4"/><circle cx="248.5" cy="333.3" r="3.4"/><circle cx="269.2" cy="320.9" r="3.4"/><circle cx="287.1" cy="307.2" r="3.4"/><circle cx="304.2" cy="293.8" r="3.4"/><circle cx="320.2" cy="280.4" r="3.4"/><circle cx="334.9" cy="266.8" r="3.4"/><circle cx="360.6" cy="239.1" r="3.4"/><circle cx="382.8" cy="211.2" r="3.4"/><circle cx="402.6" cy="183.6" r="3.4"/><circle cx="419.4" cy="155.5" r="3.4"/></g>
<path d="M119.2 380.1 L119.4 383.4 L119.9 383.2 L120.9 382.8 L122.1 382.3 L123.8 381.7 L125.7 381 L127.9 380.1 L130.5 379.2 L136.3 376.9 L143 374.2 L150.5 371.2 L158.5 368 L166.9 364.4 L175.6 360.6 L197.9 350.5 L220.3 339.4 L241.9 327.9 L262.6 316 L280.6 302.6 L297.7 289.4 L313.8 276.2 L328.5 262.7 L354.4 235.2 L376.7 207.4 L396.6 179.8 L413.6 151.8" fill="none" stroke="#f86923" stroke-width="3.8"/>
<g fill="#f86923"><circle cx="119.2" cy="380.1" r="3.4"/><circle cx="119.4" cy="383.4" r="3.4"/><circle cx="119.9" cy="383.2" r="3.4"/><circle cx="120.9" cy="382.8" r="3.4"/><circle cx="122.1" cy="382.3" r="3.4"/><circle cx="123.8" cy="381.7" r="3.4"/><circle cx="125.7" cy="381" r="3.4"/><circle cx="127.9" cy="380.1" r="3.4"/><circle cx="130.5" cy="379.2" r="3.4"/><circle cx="136.3" cy="376.9" r="3.4"/><circle cx="143" cy="374.2" r="3.4"/><circle cx="150.5" cy="371.2" r="3.4"/><circle cx="158.5" cy="368" r="3.4"/><circle cx="166.9" cy="364.4" r="3.4"/><circle cx="175.6" cy="360.6" r="3.4"/><circle cx="197.9" cy="350.5" r="3.4"/><circle cx="220.3" cy="339.4" r="3.4"/><circle cx="241.9" cy="327.9" r="3.4"/><circle cx="262.6" cy="316" r="3.4"/><circle cx="280.6" cy="302.6" r="3.4"/><circle cx="297.7" cy="289.4" r="3.4"/><circle cx="313.8" cy="276.2" r="3.4"/><circle cx="328.5" cy="262.7" r="3.4"/><circle cx="354.4" cy="235.2" r="3.4"/><circle cx="376.7" cy="207.4" r="3.4"/><circle cx="396.6" cy="179.8" r="3.4"/><circle cx="413.6" cy="151.8" r="3.4"/></g>
<path d="M119.2 370.1 L119.4 373.5 L119.9 373.3 L120.7 373 L121.8 372.6 L123.2 372 L125 371.4 L127 370.6 L129.2 369.8 L134.5 367.8 L140.7 365.5 L147.5 362.8 L155 359.8 L162.9 356.6 L171.1 353.2 L192.6 343.8 L214.4 333.5 L235.8 322.5 L256.5 311.1 L274.2 297.9 L291 284.6 L306.7 271.3 L321.4 257.9 L348 231 L371.1 203.7 L391.4 176.4 L408.5 148.4" fill="none" stroke="#fa7d1e" stroke-width="3.8"/>
<g fill="#fa7d1e"><circle cx="119.2" cy="370.1" r="3.4"/><circle cx="119.4" cy="373.5" r="3.4"/><circle cx="119.9" cy="373.3" r="3.4"/><circle cx="120.7" cy="373" r="3.4"/><circle cx="121.8" cy="372.6" r="3.4"/><circle cx="123.2" cy="372" r="3.4"/><circle cx="125" cy="371.4" r="3.4"/><circle cx="127" cy="370.6" r="3.4"/><circle cx="129.2" cy="369.8" r="3.4"/><circle cx="134.5" cy="367.8" r="3.4"/><circle cx="140.7" cy="365.5" r="3.4"/><circle cx="147.5" cy="362.8" r="3.4"/><circle cx="155" cy="359.8" r="3.4"/><circle cx="162.9" cy="356.6" r="3.4"/><circle cx="171.1" cy="353.2" r="3.4"/><circle cx="192.6" cy="343.8" r="3.4"/><circle cx="214.4" cy="333.5" r="3.4"/><circle cx="235.8" cy="322.5" r="3.4"/><circle cx="256.5" cy="311.1" r="3.4"/><circle cx="274.2" cy="297.9" r="3.4"/><circle cx="291" cy="284.6" r="3.4"/><circle cx="306.7" cy="271.3" r="3.4"/><circle cx="321.4" cy="257.9" r="3.4"/><circle cx="348" cy="231" r="3.4"/><circle cx="371.1" cy="203.7" r="3.4"/><circle cx="391.4" cy="176.4" r="3.4"/><circle cx="408.5" cy="148.4" r="3.4"/></g>
<path d="M119.2 360.2 L119.3 363.6 L119.8 363.4 L120.5 363.1 L121.5 362.8 L122.8 362.3 L124.3 361.8 L126.1 361.1 L128.2 360.4 L133 358.6 L138.6 356.5 L144.9 354.1 L151.8 351.5 L159.2 348.5 L166.9 345.4 L187.4 336.6 L208.4 326.8 L229.3 316.3 L249.5 305.1 L267.1 292.2 L283.8 279.2 L299.6 266.2 L314.4 253 L341.2 226.3 L364.5 199.3 L385 172.1 L402.4 144.2" fill="none" stroke="#fa8c1e" stroke-width="3.8"/>
<g fill="#fa8c1e"><circle cx="119.2" cy="360.2" r="3.4"/><circle cx="119.3" cy="363.6" r="3.4"/><circle cx="119.8" cy="363.4" r="3.4"/><circle cx="120.5" cy="363.1" r="3.4"/><circle cx="121.5" cy="362.8" r="3.4"/><circle cx="122.8" cy="362.3" r="3.4"/><circle cx="124.3" cy="361.8" r="3.4"/><circle cx="126.1" cy="361.1" r="3.4"/><circle cx="128.2" cy="360.4" r="3.4"/><circle cx="133" cy="358.6" r="3.4"/><circle cx="138.6" cy="356.5" r="3.4"/><circle cx="144.9" cy="354.1" r="3.4"/><circle cx="151.8" cy="351.5" r="3.4"/><circle cx="159.2" cy="348.5" r="3.4"/><circle cx="166.9" cy="345.4" r="3.4"/><circle cx="187.4" cy="336.6" r="3.4"/><circle cx="208.4" cy="326.8" r="3.4"/><circle cx="229.3" cy="316.3" r="3.4"/><circle cx="249.5" cy="305.1" r="3.4"/><circle cx="267.1" cy="292.2" r="3.4"/><circle cx="283.8" cy="279.2" r="3.4"/><circle cx="299.6" cy="266.2" r="3.4"/><circle cx="314.4" cy="253" r="3.4"/><circle cx="341.2" cy="226.3" r="3.4"/><circle cx="364.5" cy="199.3" r="3.4"/><circle cx="385" cy="172.1" r="3.4"/><circle cx="402.4" cy="144.2" r="3.4"/></g>
<path d="M119.2 350 L119.3 353.4 L119.7 353.3 L120.4 353.1 L121.3 352.7 L122.4 352.4 L123.8 351.9 L125.4 351.3 L127.3 350.7 L131.6 349.2 L136.8 347.4 L142.6 345.3 L149 342.9 L155.9 340.3 L163.2 337.5 L182.7 329.4 L203 320.1 L223.2 309.9 L242.9 299 L260.1 286.2 L276.5 273.3 L292 260.3 L306.7 247.2 L333.7 220.9 L357.4 194.3 L378.4 167.5 L396.3 139.9" fill="none" stroke="#faa519" stroke-width="3.8"/>
<g fill="#faa519"><circle cx="119.2" cy="350" r="3.4"/><circle cx="119.3" cy="353.4" r="3.4"/><circle cx="119.7" cy="353.3" r="3.4"/><circle cx="120.4" cy="353.1" r="3.4"/><circle cx="121.3" cy="352.7" r="3.4"/><circle cx="122.4" cy="352.4" r="3.4"/><circle cx="123.8" cy="351.9" r="3.4"/><circle cx="125.4" cy="351.3" r="3.4"/><circle cx="127.3" cy="350.7" r="3.4"/><circle cx="131.6" cy="349.2" r="3.4"/><circle cx="136.8" cy="347.4" r="3.4"/><circle cx="142.6" cy="345.3" r="3.4"/><circle cx="149" cy="342.9" r="3.4"/><circle cx="155.9" cy="340.3" r="3.4"/><circle cx="163.2" cy="337.5" r="3.4"/><circle cx="182.7" cy="329.4" r="3.4"/><circle cx="203" cy="320.1" r="3.4"/><circle cx="223.2" cy="309.9" r="3.4"/><circle cx="242.9" cy="299" r="3.4"/><circle cx="260.1" cy="286.2" r="3.4"/><circle cx="276.5" cy="273.3" r="3.4"/><circle cx="292" cy="260.3" r="3.4"/><circle cx="306.7" cy="247.2" r="3.4"/><circle cx="333.7" cy="220.9" r="3.4"/><circle cx="357.4" cy="194.3" r="3.4"/><circle cx="378.4" cy="167.5" r="3.4"/><circle cx="396.3" cy="139.9" r="3.4"/></g>
<path d="M119.2 339.7 L119.3 343 L119.7 342.9 L120.2 342.7 L121.1 342.5 L122.1 342.2 L123.3 341.8 L124.8 341.3 L126.5 340.8 L130.4 339.5 L135.1 338 L140.5 336.2 L146.5 334.1 L152.9 331.8 L159.8 329.3 L178.4 321.9 L197.9 313.2 L217.6 303.5 L236.8 293 L253.8 280.4 L270.1 267.8 L285.7 255.1 L300.3 242.2 L327.1 216 L350.8 189.5 L372 162.8 L390.1 135.4" fill="none" stroke="#fcb919" stroke-width="3.8"/>
<g fill="#fcb919"><circle cx="119.2" cy="339.7" r="3.4"/><circle cx="119.3" cy="343" r="3.4"/><circle cx="119.7" cy="342.9" r="3.4"/><circle cx="120.2" cy="342.7" r="3.4"/><circle cx="121.1" cy="342.5" r="3.4"/><circle cx="122.1" cy="342.2" r="3.4"/><circle cx="123.3" cy="341.8" r="3.4"/><circle cx="124.8" cy="341.3" r="3.4"/><circle cx="126.5" cy="340.8" r="3.4"/><circle cx="130.4" cy="339.5" r="3.4"/><circle cx="135.1" cy="338" r="3.4"/><circle cx="140.5" cy="336.2" r="3.4"/><circle cx="146.5" cy="334.1" r="3.4"/><circle cx="152.9" cy="331.8" r="3.4"/><circle cx="159.8" cy="329.3" r="3.4"/><circle cx="178.4" cy="321.9" r="3.4"/><circle cx="197.9" cy="313.2" r="3.4"/><circle cx="217.6" cy="303.5" r="3.4"/><circle cx="236.8" cy="293" r="3.4"/><circle cx="253.8" cy="280.4" r="3.4"/><circle cx="270.1" cy="267.8" r="3.4"/><circle cx="285.7" cy="255.1" r="3.4"/><circle cx="300.3" cy="242.2" r="3.4"/><circle cx="327.1" cy="216" r="3.4"/><circle cx="350.8" cy="189.5" r="3.4"/><circle cx="372" cy="162.8" r="3.4"/><circle cx="390.1" cy="135.4" r="3.4"/></g>
<path d="M119.2 329 L119.3 332.4 L119.6 332.3 L120.1 332.2 L120.9 332 L121.8 331.7 L122.9 331.4 L124.3 331.1 L125.8 330.6 L129.4 329.6 L133.7 328.4 L138.6 326.9 L144.2 325.1 L150.2 323.2 L156.7 320.9 L174.4 314.3 L193.2 306.3 L212.3 297 L231.1 286.8 L247.8 274.5 L263.9 262.1 L279.3 249.5 L293.8 236.7 L320.5 210.8 L344.3 184.5 L365.7 158.1 L384.2 131" fill="none" stroke="#fccd14" stroke-width="3.8"/>
<g fill="#fccd14"><circle cx="119.2" cy="329" r="3.4"/><circle cx="119.3" cy="332.4" r="3.4"/><circle cx="119.6" cy="332.3" r="3.4"/><circle cx="120.1" cy="332.2" r="3.4"/><circle cx="120.9" cy="332" r="3.4"/><circle cx="121.8" cy="331.7" r="3.4"/><circle cx="122.9" cy="331.4" r="3.4"/><circle cx="124.3" cy="331.1" r="3.4"/><circle cx="125.8" cy="330.6" r="3.4"/><circle cx="129.4" cy="329.6" r="3.4"/><circle cx="133.7" cy="328.4" r="3.4"/><circle cx="138.6" cy="326.9" r="3.4"/><circle cx="144.2" cy="325.1" r="3.4"/><circle cx="150.2" cy="323.2" r="3.4"/><circle cx="156.7" cy="320.9" r="3.4"/><circle cx="174.4" cy="314.3" r="3.4"/><circle cx="193.2" cy="306.3" r="3.4"/><circle cx="212.3" cy="297" r="3.4"/><circle cx="231.1" cy="286.8" r="3.4"/><circle cx="247.8" cy="274.5" r="3.4"/><circle cx="263.9" cy="262.1" r="3.4"/><circle cx="279.3" cy="249.5" r="3.4"/><circle cx="293.8" cy="236.7" r="3.4"/><circle cx="320.5" cy="210.8" r="3.4"/><circle cx="344.3" cy="184.5" r="3.4"/><circle cx="365.7" cy="158.1" r="3.4"/><circle cx="384.2" cy="131" r="3.4"/></g>
<path d="M119.2 318.2 L119.3 321.6 L119.6 321.5 L120 321.4 L120.7 321.3 L121.5 321.1 L122.6 320.9 L123.8 320.6 L125.2 320.3 L128.5 319.5 L132.4 318.5 L137 317.3 L142.1 315.8 L147.8 314.1 L153.9 312.2 L170.6 306.2 L188.6 298.7 L206.9 289.8 L225 279.8 L241.3 267.6 L257.2 255.5 L272.4 243.2 L286.8 230.5 L313.1 204.7 L336.7 178.4 L358.2 152.2 L377.1 125.4" fill="none" stroke="#fae40a" stroke-width="3.8"/>
<g fill="#fae40a"><circle cx="119.2" cy="318.2" r="3.4"/><circle cx="119.3" cy="321.6" r="3.4"/><circle cx="119.6" cy="321.5" r="3.4"/><circle cx="120" cy="321.4" r="3.4"/><circle cx="120.7" cy="321.3" r="3.4"/><circle cx="121.5" cy="321.1" r="3.4"/><circle cx="122.6" cy="320.9" r="3.4"/><circle cx="123.8" cy="320.6" r="3.4"/><circle cx="125.2" cy="320.3" r="3.4"/><circle cx="128.5" cy="319.5" r="3.4"/><circle cx="132.4" cy="318.5" r="3.4"/><circle cx="137" cy="317.3" r="3.4"/><circle cx="142.1" cy="315.8" r="3.4"/><circle cx="147.8" cy="314.1" r="3.4"/><circle cx="153.9" cy="312.2" r="3.4"/><circle cx="170.6" cy="306.2" r="3.4"/><circle cx="188.6" cy="298.7" r="3.4"/><circle cx="206.9" cy="289.8" r="3.4"/><circle cx="225" cy="279.8" r="3.4"/><circle cx="241.3" cy="267.6" r="3.4"/><circle cx="257.2" cy="255.5" r="3.4"/><circle cx="272.4" cy="243.2" r="3.4"/><circle cx="286.8" cy="230.5" r="3.4"/><circle cx="313.1" cy="204.7" r="3.4"/><circle cx="336.7" cy="178.4" r="3.4"/><circle cx="358.2" cy="152.2" r="3.4"/><circle cx="377.1" cy="125.4" r="3.4"/></g>
<path d="M119.2 307.4 L119.3 310.8 L119.5 310.7 L120 310.6 L120.6 310.5 L121.3 310.4 L122.3 310.2 L123.4 310 L124.6 309.8 L127.6 309.2 L131.3 308.4 L135.5 307.5 L140.3 306.3 L145.5 304.8 L151.2 303.2 L167 297.8 L184.2 290.9 L201.9 282.4 L219.4 272.7 L235.3 260.8 L250.9 248.8 L265.9 236.7 L280.3 224.4 L307.2 199.4 L331.3 173.9 L353 147.9 L371.7 121.1" fill="none" stroke="#fffa00" stroke-width="3.8"/>
<g fill="#fffa00"><circle cx="119.2" cy="307.4" r="3.4"/><circle cx="119.3" cy="310.8" r="3.4"/><circle cx="119.5" cy="310.7" r="3.4"/><circle cx="120" cy="310.6" r="3.4"/><circle cx="120.6" cy="310.5" r="3.4"/><circle cx="121.3" cy="310.4" r="3.4"/><circle cx="122.3" cy="310.2" r="3.4"/><circle cx="123.4" cy="310" r="3.4"/><circle cx="124.6" cy="309.8" r="3.4"/><circle cx="127.6" cy="309.2" r="3.4"/><circle cx="131.3" cy="308.4" r="3.4"/><circle cx="135.5" cy="307.5" r="3.4"/><circle cx="140.3" cy="306.3" r="3.4"/><circle cx="145.5" cy="304.8" r="3.4"/><circle cx="151.2" cy="303.2" r="3.4"/><circle cx="167" cy="297.8" r="3.4"/><circle cx="184.2" cy="290.9" r="3.4"/><circle cx="201.9" cy="282.4" r="3.4"/><circle cx="219.4" cy="272.7" r="3.4"/><circle cx="235.3" cy="260.8" r="3.4"/><circle cx="250.9" cy="248.8" r="3.4"/><circle cx="265.9" cy="236.7" r="3.4"/><circle cx="280.3" cy="224.4" r="3.4"/><circle cx="307.2" cy="199.4" r="3.4"/><circle cx="331.3" cy="173.9" r="3.4"/><circle cx="353" cy="147.9" r="3.4"/><circle cx="371.7" cy="121.1" r="3.4"/></g>
</g>
<g stroke="#000" stroke-width="3.4" fill="none">
<rect x="110.3" y="50.4" width="452.3" height="494.6"/>
<line x1="110.3" y1="536.4" x2="133.8" y2="536.4"/>
<line x1="110.3" y1="451.2" x2="133.8" y2="451.2"/>
<line x1="110.3" y1="366" x2="133.8" y2="366"/>
<line x1="110.3" y1="280.8" x2="133.8" y2="280.8"/>
<line x1="110.3" y1="195.6" x2="133.8" y2="195.6"/>
<line x1="110.3" y1="110.4" x2="133.8" y2="110.4"/>
<line x1="119.3" y1="545" x2="119.3" y2="521.5"/>
<line x1="239.9" y1="545" x2="239.9" y2="521.5"/>
<line x1="360.5" y1="545" x2="360.5" y2="521.5"/>
<line x1="481.1" y1="545" x2="481.1" y2="521.5"/>
<line x1="179.6" y1="545" x2="179.6" y2="531.8"/>
<line x1="300.2" y1="545" x2="300.2" y2="531.8"/>
<line x1="420.8" y1="545" x2="420.8" y2="531.8"/>
<line x1="541.4" y1="545" x2="541.4" y2="531.8"/>
</g>
<g font-family='"Liberation Sans", sans-serif' font-size="32" fill="#000">
<text x="98.3" y="546.4" text-anchor="end">0</text>
<text x="98.3" y="461.2" text-anchor="end">50</text>
<text x="98.3" y="376" text-anchor="end">100</text>
<text x="98.3" y="290.8" text-anchor="end">150</text>
<text x="98.3" y="205.6" text-anchor="end">200</text>
<text x="98.3" y="120.4" text-anchor="end">250</text>
<text x="119.8" y="587.8" text-anchor="middle">0</text>
<text x="240.4" y="587.8" text-anchor="middle">20000</text>
<text x="361" y="587.8" text-anchor="middle">40000</text>
<text x="481.6" y="587.8" text-anchor="middle">60000</text>
</g>
<text x="236" y="630.5" font-family='"Liberation Sans", sans-serif' font-size="35"><tspan font-style="italic">M</tspan><tspan font-size="28" dy="-10.5">2</tspan><tspan dy="10.5"> (emu g</tspan><tspan font-size="28" dy="-10.5" dx="1">-1</tspan><tspan dy="10.5" dx="0.5">)</tspan><tspan font-size="28" dy="-10.5">2</tspan></text>
<text transform="translate(30.6 428) rotate(-90)" x="0" y="0" font-family='"Liberation Sans", sans-serif' font-size="35"><tspan font-style="italic">H/M</tspan><tspan dx="4">  (Oe g emu</tspan><tspan font-size="28" dy="-11.2" dx="1">-1</tspan><tspan dy="11.2" dx="2">)</tspan></text>
<text x="317.5" y="103.2" font-family='"Liberation Sans", sans-serif' font-size="28.8"><tspan font-style="italic">T</tspan> = 25 K</text>
<text x="501.3" y="192.2" font-family='"Liberation Sans", sans-serif' font-size="28">10 K</text>
<line x1="426" y1="110.3" x2="493" y2="160.5" stroke="#000" stroke-width="3"/>
<polygon points="502,167.5 488.5,164.5 497,153.5" fill="#000"/>
<g fill="none" stroke-linejoin="round">
<path d="M741.9 532.5 L754.9 539.8 L781 523 L789 508.1 L798 494.5 L806.9 481 L815 456 L824 433.8 L832.1 415.2 L840.6 377.6 L846.8 339.4 L852 296.6 L860.2 241.2 L867.9 191 L877.6 161.7 L886.2 164.7 L894.8 170.1 L903.1 149.6 L912 117.2 L919.7 67.7 L929.9 62.9 L937.8 76 L945.6 98.8 L953.4 127.8 L961.3 156.3 L969.1 188.6 L977 217.4 L984.8 248.9 L992.7 278.7 L1000.5 303.9 L1008.3 328.6 L1016.2 349.1 L1024 368.4 L1031.9 385.2 L1039.7 399.8 L1047.6 412 L1055.4 421.1 L1063.3 429.5 L1071.1 436.7 L1078.9 444 L1086.8 451.4 L1094.6 458.6 L1102.5 465.4 L1110.3 471.4 L1118.2 476.9 L1126 482.1 L1133.8 486.9 L1141.7 491.1 L1149.5 494.8 L1157.4 498.4 L1165.2 502.1 L1173.1 505.4 L1180.9 508.2 L1188.8 511 L1196.6 513.9 L1204.4 516.6 L1212.3 518.9 L1220.1 520.8 L1228 522.5 L1235.8 524.1 L1243.7 525.8 L1251.5 527.5 L1259.4 529.4 L1267.2 531.2 L1275 532.9 L1282.9 534.5 L1290.7 535.8 L1298.6 537.1 L1306.4 538.3 L1314.3 539.5 L1322.1 540.5 L1329.9 541.6 L1337.8 542.6" stroke="#660066" stroke-width="3.0"/>
<g stroke="#660066" stroke-width="1.7"><circle cx="741.9" cy="532.5" r="6.2"/><circle cx="754.9" cy="539.8" r="6.2"/><circle cx="781" cy="523" r="6.2"/><circle cx="789" cy="508.1" r="6.2"/><circle cx="798" cy="494.5" r="6.2"/><circle cx="806.9" cy="481" r="6.2"/><circle cx="815" cy="456" r="6.2"/><circle cx="824" cy="433.8" r="6.2"/><circle cx="832.1" cy="415.2" r="6.2"/><circle cx="840.6" cy="377.6" r="6.2"/><circle cx="846.8" cy="339.4" r="6.2"/><circle cx="852" cy="296.6" r="6.2"/><circle cx="860.2" cy="241.2" r="6.2"/><circle cx="867.9" cy="191" r="6.2"/><circle cx="877.6" cy="161.7" r="6.2"/><circle cx="886.2" cy="164.7" r="6.2"/><circle cx="894.8" cy="170.1" r="6.2"/><circle cx="903.1" cy="149.6" r="6.2"/><circle cx="912" cy="117.2" r="6.2"/><circle cx="919.7" cy="67.7" r="6.2"/><circle cx="929.9" cy="62.9" r="6.2"/><circle cx="937.8" cy="76" r="6.2"/><circle cx="945.6" cy="98.8" r="6.2"/><circle cx="953.4" cy="127.8" r="6.2"/><circle cx="961.3" cy="156.3" r="6.2"/><circle cx="969.1" cy="188.6" r="6.2"/><circle cx="977" cy="217.4" r="6.2"/><circle cx="984.8" cy="248.9" r="6.2"/><circle cx="992.7" cy="278.7" r="6.2"/><circle cx="1000.5" cy="303.9" r="6.2"/><circle cx="1008.3" cy="328.6" r="6.2"/><circle cx="1016.2" cy="349.1" r="6.2"/><circle cx="1024" cy="368.4" r="6.2"/><circle cx="1031.9" cy="385.2" r="6.2"/><circle cx="1039.7" cy="399.8" r="6.2"/><circle cx="1047.6" cy="412" r="6.2"/><circle cx="1055.4" cy="421.1" r="6.2"/><circle cx="1063.3" cy="429.5" r="6.2"/><circle cx="1071.1" cy="436.7" r="6.2"/><circle cx="1078.9" cy="444" r="6.2"/><circle cx="1086.8" cy="451.4" r="6.2"/><circle cx="1094.6" cy="458.6" r="6.2"/><circle cx="1102.5" cy="465.4" r="6.2"/><circle cx="1110.3" cy="471.4" r="6.2"/><circle cx="1118.2" cy="476.9" r="6.2"/><circle cx="1126" cy="482.1" r="6.2"/><circle cx="1133.8" cy="486.9" r="6.2"/><circle cx="1141.7" cy="491.1" r="6.2"/><circle cx="1149.5" cy="494.8" r="6.2"/><circle cx="1157.4" cy="498.4" r="6.2"/><circle cx="1165.2" cy="502.1" r="6.2"/><circle cx="1173.1" cy="505.4" r="6.2"/><circle cx="1180.9" cy="508.2" r="6.2"/><circle cx="1188.8" cy="511" r="6.2"/><circle cx="1196.6" cy="513.9" r="6.2"/><circle cx="1204.4" cy="516.6" r="6.2"/><circle cx="1212.3" cy="518.9" r="6.2"/><circle cx="1220.1" cy="520.8" r="6.2"/><circle cx="1228" cy="522.5" r="6.2"/><circle cx="1235.8" cy="524.1" r="6.2"/><circle cx="1243.7" cy="525.8" r="6.2"/><circle cx="1251.5" cy="527.5" r="6.2"/><circle cx="1259.4" cy="529.4" r="6.2"/><circle cx="1267.2" cy="531.2" r="6.2"/><circle cx="1275" cy="532.9" r="6.2"/><circle cx="1282.9" cy="534.5" r="6.2"/><circle cx="1290.7" cy="535.8" r="6.2"/><circle cx="1298.6" cy="537.1" r="6.2"/><circle cx="1306.4" cy="538.3" r="6.2"/><circle cx="1314.3" cy="539.5" r="6.2"/><circle cx="1322.1" cy="540.5" r="6.2"/><circle cx="1329.9" cy="541.6" r="6.2"/><circle cx="1337.8" cy="542.6" r="6.2"/></g>
<path d="M744.7 530 L758.1 534.8 L779.9 519.8 L787.8 504.8 L796.7 490.9 L805.7 476.7 L813.8 451.2 L822.8 428.3 L830.9 409.3 L839.3 371.4 L846.2 332.5 L852 288.5 L860.2 234 L867.9 184.4 L877.6 153.2 L886.2 156.3 L894.8 162.1 L903.1 143.1 L912 112.1 L919.7 68.1 L929.8 62.9 L937.3 75 L944.7 96 L952.2 123.4 L959.7 150 L967.1 181.3 L974.6 208 L982.1 237.8 L989.5 267.4 L997 292.2 L1004.5 316.7 L1011.9 337.7 L1019.4 356.7 L1026.9 374.1 L1034.4 389.3 L1041.8 402.7 L1049.3 413.4 L1056.8 421.7 L1064.2 429.6 L1071.7 436.4 L1079.2 443.3 L1086.6 450.4 L1094.1 457.4 L1101.6 463.9 L1109 469.7 L1116.5 475.1 L1124 480.1 L1131.4 484.8 L1138.9 489.1 L1146.4 492.7 L1153.8 496.2 L1161.3 499.7 L1168.8 503.1 L1176.2 506 L1183.7 508.7 L1191.2 511.4 L1198.6 514.2 L1206.1 516.7 L1213.6 518.8 L1221 520.6 L1228.5 522.2 L1236 523.8 L1243.4 525.4 L1250.9 527 L1258.4 528.8 L1265.8 530.6 L1273.3 532.2 L1280.8 533.7" stroke="#8000dc" stroke-width="3.0"/>
<g stroke="#8000dc" stroke-width="1.7"><circle cx="744.7" cy="530" r="6.2"/><circle cx="758.1" cy="534.8" r="6.2"/><circle cx="779.9" cy="519.8" r="6.2"/><circle cx="787.8" cy="504.8" r="6.2"/><circle cx="796.7" cy="490.9" r="6.2"/><circle cx="805.7" cy="476.7" r="6.2"/><circle cx="813.8" cy="451.2" r="6.2"/><circle cx="822.8" cy="428.3" r="6.2"/><circle cx="830.9" cy="409.3" r="6.2"/><circle cx="839.3" cy="371.4" r="6.2"/><circle cx="846.2" cy="332.5" r="6.2"/><circle cx="852" cy="288.5" r="6.2"/><circle cx="860.2" cy="234" r="6.2"/><circle cx="867.9" cy="184.4" r="6.2"/><circle cx="877.6" cy="153.2" r="6.2"/><circle cx="886.2" cy="156.3" r="6.2"/><circle cx="894.8" cy="162.1" r="6.2"/><circle cx="903.1" cy="143.1" r="6.2"/><circle cx="912" cy="112.1" r="6.2"/><circle cx="919.7" cy="68.1" r="6.2"/><circle cx="929.8" cy="62.9" r="6.2"/><circle cx="937.3" cy="75" r="6.2"/><circle cx="944.7" cy="96" r="6.2"/><circle cx="952.2" cy="123.4" r="6.2"/><circle cx="959.7" cy="150" r="6.2"/><circle cx="967.1" cy="181.3" r="6.2"/><circle cx="974.6" cy="208" r="6.2"/><circle cx="982.1" cy="237.8" r="6.2"/><circle cx="989.5" cy="267.4" r="6.2"/><circle cx="997" cy="292.2" r="6.2"/><circle cx="1004.5" cy="316.7" r="6.2"/><circle cx="1011.9" cy="337.7" r="6.2"/><circle cx="1019.4" cy="356.7" r="6.2"/><circle cx="1026.9" cy="374.1" r="6.2"/><circle cx="1034.4" cy="389.3" r="6.2"/><circle cx="1041.8" cy="402.7" r="6.2"/><circle cx="1049.3" cy="413.4" r="6.2"/><circle cx="1056.8" cy="421.7" r="6.2"/><circle cx="1064.2" cy="429.6" r="6.2"/><circle cx="1071.7" cy="436.4" r="6.2"/><circle cx="1079.2" cy="443.3" r="6.2"/><circle cx="1086.6" cy="450.4" r="6.2"/><circle cx="1094.1" cy="457.4" r="6.2"/><circle cx="1101.6" cy="463.9" r="6.2"/><circle cx="1109" cy="469.7" r="6.2"/><circle cx="1116.5" cy="475.1" r="6.2"/><circle cx="1124" cy="480.1" r="6.2"/><circle cx="1131.4" cy="484.8" r="6.2"/><circle cx="1138.9" cy="489.1" r="6.2"/><circle cx="1146.4" cy="492.7" r="6.2"/><circle cx="1153.8" cy="496.2" r="6.2"/><circle cx="1161.3" cy="499.7" r="6.2"/><circle cx="1168.8" cy="503.1" r="6.2"/><circle cx="1176.2" cy="506" r="6.2"/><circle cx="1183.7" cy="508.7" r="6.2"/><circle cx="1191.2" cy="511.4" r="6.2"/><circle cx="1198.6" cy="514.2" r="6.2"/><circle cx="1206.1" cy="516.7" r="6.2"/><circle cx="1213.6" cy="518.8" r="6.2"/><circle cx="1221" cy="520.6" r="6.2"/><circle cx="1228.5" cy="522.2" r="6.2"/><circle cx="1236" cy="523.8" r="6.2"/><circle cx="1243.4" cy="525.4" r="6.2"/><circle cx="1250.9" cy="527" r="6.2"/><circle cx="1258.4" cy="528.8" r="6.2"/><circle cx="1265.8" cy="530.6" r="6.2"/><circle cx="1273.3" cy="532.2" r="6.2"/><circle cx="1280.8" cy="533.7" r="6.2"/></g>
<path d="M746.6 528.4 L760.3 531.5 L779.2 517.7 L787 502.6 L795.9 488.5 L804.9 473.9 L813 447.9 L821.9 424.6 L830.1 405.4 L838.5 367.3 L845.8 327.9 L852 283.2 L860.2 229.1 L867.9 180 L877.6 147.6 L886.2 150.8 L894.8 156.8 L903.1 138.7 L912 108.7 L919.7 68.4 L929.7 62.9 L936.9 74.3 L944.1 94 L951.3 120.1 L958.5 145.7 L965.7 175.5 L972.9 201.6 L980.1 229.8 L987.3 258.5 L994.5 284 L1001.7 307.1 L1008.9 329.1 L1016.1 347.8 L1023.3 365.4 L1030.5 381 L1037.7 394.7 L1044.9 406.7 L1052.1 415.8 L1059.3 423.5 L1066.5 430.8 L1073.7 437.3 L1080.9 444.1 L1088.1 451 L1095.3 457.7 L1102.5 463.9 L1109.7 469.5 L1116.9 474.6 L1124 479.5 L1131.2 484.1 L1138.4 488.2 L1145.6 491.8 L1152.8 495.1 L1160 498.6 L1167.2 501.9 L1174.4 504.8 L1181.6 507.5 L1188.8 510.1 L1196 512.7 L1203.2 515.3 L1210.4 517.5 L1217.6 519.4 L1224.8 521 L1232 522.5 L1239.2 524.1" stroke="#0000ff" stroke-width="3.0"/>
<g stroke="#0000ff" stroke-width="1.7"><circle cx="746.6" cy="528.4" r="6.2"/><circle cx="760.3" cy="531.5" r="6.2"/><circle cx="779.2" cy="517.7" r="6.2"/><circle cx="787" cy="502.6" r="6.2"/><circle cx="795.9" cy="488.5" r="6.2"/><circle cx="804.9" cy="473.9" r="6.2"/><circle cx="813" cy="447.9" r="6.2"/><circle cx="821.9" cy="424.6" r="6.2"/><circle cx="830.1" cy="405.4" r="6.2"/><circle cx="838.5" cy="367.3" r="6.2"/><circle cx="845.8" cy="327.9" r="6.2"/><circle cx="852" cy="283.2" r="6.2"/><circle cx="860.2" cy="229.1" r="6.2"/><circle cx="867.9" cy="180" r="6.2"/><circle cx="877.6" cy="147.6" r="6.2"/><circle cx="886.2" cy="150.8" r="6.2"/><circle cx="894.8" cy="156.8" r="6.2"/><circle cx="903.1" cy="138.7" r="6.2"/><circle cx="912" cy="108.7" r="6.2"/><circle cx="919.7" cy="68.4" r="6.2"/><circle cx="929.7" cy="62.9" r="6.2"/><circle cx="936.9" cy="74.3" r="6.2"/><circle cx="944.1" cy="94" r="6.2"/><circle cx="951.3" cy="120.1" r="6.2"/><circle cx="958.5" cy="145.7" r="6.2"/><circle cx="965.7" cy="175.5" r="6.2"/><circle cx="972.9" cy="201.6" r="6.2"/><circle cx="980.1" cy="229.8" r="6.2"/><circle cx="987.3" cy="258.5" r="6.2"/><circle cx="994.5" cy="284" r="6.2"/><circle cx="1001.7" cy="307.1" r="6.2"/><circle cx="1008.9" cy="329.1" r="6.2"/><circle cx="1016.1" cy="347.8" r="6.2"/><circle cx="1023.3" cy="365.4" r="6.2"/><circle cx="1030.5" cy="381" r="6.2"/><circle cx="1037.7" cy="394.7" r="6.2"/><circle cx="1044.9" cy="406.7" r="6.2"/><circle cx="1052.1" cy="415.8" r="6.2"/><circle cx="1059.3" cy="423.5" r="6.2"/><circle cx="1066.5" cy="430.8" r="6.2"/><circle cx="1073.7" cy="437.3" r="6.2"/><circle cx="1080.9" cy="444.1" r="6.2"/><circle cx="1088.1" cy="451" r="6.2"/><circle cx="1095.3" cy="457.7" r="6.2"/><circle cx="1102.5" cy="463.9" r="6.2"/><circle cx="1109.7" cy="469.5" r="6.2"/><circle cx="1116.9" cy="474.6" r="6.2"/><circle cx="1124" cy="479.5" r="6.2"/><circle cx="1131.2" cy="484.1" r="6.2"/><circle cx="1138.4" cy="488.2" r="6.2"/><circle cx="1145.6" cy="491.8" r="6.2"/><circle cx="1152.8" cy="495.1" r="6.2"/><circle cx="1160" cy="498.6" r="6.2"/><circle cx="1167.2" cy="501.9" r="6.2"/><circle cx="1174.4" cy="504.8" r="6.2"/><circle cx="1181.6" cy="507.5" r="6.2"/><circle cx="1188.8" cy="510.1" r="6.2"/><circle cx="1196" cy="512.7" r="6.2"/><circle cx="1203.2" cy="515.3" r="6.2"/><circle cx="1210.4" cy="517.5" r="6.2"/><circle cx="1217.6" cy="519.4" r="6.2"/><circle cx="1224.8" cy="521" r="6.2"/><circle cx="1232" cy="522.5" r="6.2"/><circle cx="1239.2" cy="524.1" r="6.2"/></g>
<path d="M748 527.2 L761.8 529.1 L778.7 516.2 L786.4 501.1 L795.3 486.7 L804.3 471.9 L812.4 445.6 L821.4 421.9 L829.5 402.6 L837.9 364.3 L845.5 324.6 L851.9 279.4 L860.2 225.6 L867.9 176.9 L877.6 143.6 L886.2 146.8 L894.8 153.1 L903.1 135.6 L912 106.3 L919.7 68.7 L929.6 62.9 L936.6 73.7 L943.6 92.4 L950.6 117.4 L957.5 142.4 L964.5 170.6 L971.5 196.7 L978.5 223.3 L985.5 251.2 L992.5 277.2 L999.5 299.3 L1006.4 321.7 L1013.4 340.5 L1020.4 358 L1027.4 374 L1034.4 388 L1041.4 400.4 L1048.4 410.6 L1055.3 418.5 L1062.3 425.9 L1069.3 432.5 L1076.3 438.9 L1083.3 445.7 L1090.3 452.3 L1097.3 458.7 L1104.2 464.6 L1111.2 470 L1118.2 474.9 L1125.2 479.6 L1132.2 484 L1139.2 488 L1146.2 491.4 L1153.1 494.7 L1160.1 498 L1167.1 501.3 L1174.1 504.1 L1181.1 506.8 L1188.1 509.3 L1195.1 511.9 L1202 514.4 L1209 516.7" stroke="#00aaff" stroke-width="3.0"/>
<g stroke="#00aaff" stroke-width="1.7"><circle cx="748" cy="527.2" r="6.2"/><circle cx="761.8" cy="529.1" r="6.2"/><circle cx="778.7" cy="516.2" r="6.2"/><circle cx="786.4" cy="501.1" r="6.2"/><circle cx="795.3" cy="486.7" r="6.2"/><circle cx="804.3" cy="471.9" r="6.2"/><circle cx="812.4" cy="445.6" r="6.2"/><circle cx="821.4" cy="421.9" r="6.2"/><circle cx="829.5" cy="402.6" r="6.2"/><circle cx="837.9" cy="364.3" r="6.2"/><circle cx="845.5" cy="324.6" r="6.2"/><circle cx="851.9" cy="279.4" r="6.2"/><circle cx="860.2" cy="225.6" r="6.2"/><circle cx="867.9" cy="176.9" r="6.2"/><circle cx="877.6" cy="143.6" r="6.2"/><circle cx="886.2" cy="146.8" r="6.2"/><circle cx="894.8" cy="153.1" r="6.2"/><circle cx="903.1" cy="135.6" r="6.2"/><circle cx="912" cy="106.3" r="6.2"/><circle cx="919.7" cy="68.7" r="6.2"/><circle cx="929.6" cy="62.9" r="6.2"/><circle cx="936.6" cy="73.7" r="6.2"/><circle cx="943.6" cy="92.4" r="6.2"/><circle cx="950.6" cy="117.4" r="6.2"/><circle cx="957.5" cy="142.4" r="6.2"/><circle cx="964.5" cy="170.6" r="6.2"/><circle cx="971.5" cy="196.7" r="6.2"/><circle cx="978.5" cy="223.3" r="6.2"/><circle cx="985.5" cy="251.2" r="6.2"/><circle cx="992.5" cy="277.2" r="6.2"/><circle cx="999.5" cy="299.3" r="6.2"/><circle cx="1006.4" cy="321.7" r="6.2"/><circle cx="1013.4" cy="340.5" r="6.2"/><circle cx="1020.4" cy="358" r="6.2"/><circle cx="1027.4" cy="374" r="6.2"/><circle cx="1034.4" cy="388" r="6.2"/><circle cx="1041.4" cy="400.4" r="6.2"/><circle cx="1048.4" cy="410.6" r="6.2"/><circle cx="1055.3" cy="418.5" r="6.2"/><circle cx="1062.3" cy="425.9" r="6.2"/><circle cx="1069.3" cy="432.5" r="6.2"/><circle cx="1076.3" cy="438.9" r="6.2"/><circle cx="1083.3" cy="445.7" r="6.2"/><circle cx="1090.3" cy="452.3" r="6.2"/><circle cx="1097.3" cy="458.7" r="6.2"/><circle cx="1104.2" cy="464.6" r="6.2"/><circle cx="1111.2" cy="470" r="6.2"/><circle cx="1118.2" cy="474.9" r="6.2"/><circle cx="1125.2" cy="479.6" r="6.2"/><circle cx="1132.2" cy="484" r="6.2"/><circle cx="1139.2" cy="488" r="6.2"/><circle cx="1146.2" cy="491.4" r="6.2"/><circle cx="1153.1" cy="494.7" r="6.2"/><circle cx="1160.1" cy="498" r="6.2"/><circle cx="1167.1" cy="501.3" r="6.2"/><circle cx="1174.1" cy="504.1" r="6.2"/><circle cx="1181.1" cy="506.8" r="6.2"/><circle cx="1188.1" cy="509.3" r="6.2"/><circle cx="1195.1" cy="511.9" r="6.2"/><circle cx="1202" cy="514.4" r="6.2"/><circle cx="1209" cy="516.7" r="6.2"/></g>
<path d="M749 526.3 L763 527.3 L778.4 515.1 L786 499.9 L794.9 485.4 L803.9 470.4 L812 443.9 L820.9 419.9 L829.1 400.5 L837.5 362.1 L845.3 322.2 L851.9 276.5 L860.2 223 L867.9 174.6 L877.6 140.5 L886.2 143.8 L894.8 150.2 L903.1 133.2 L912 104.5 L919.7 68.8 L929.5 62.8 L936.2 73 L943 90.6 L949.7 114.2 L956.4 138.5 L963.2 164.8 L969.9 191 L976.6 215.7 L983.4 242.5 L990.1 268.8 L996.8 290.6 L1003.6 312.6 L1010.3 331.8 L1017 349 L1023.8 365.3 L1030.5 379.7 L1037.2 392.5 L1044 403.8 L1050.7 412.6 L1057.4 419.8 L1064.2 426.9 L1070.9 433 L1077.6 439.4 L1084.4 445.9 L1091.1 452.2 L1097.8 458.5 L1104.6 464.1 L1111.3 469.3 L1118 474.1 L1124.8 478.7 L1131.5 483 L1138.2 486.9 L1145 490.2 L1151.7 493.4 L1158.4 496.7 L1165.2 499.8 L1171.9 502.7 L1178.6 505.3 L1185.4 507.8" stroke="#00ff40" stroke-width="3.0"/>
<g stroke="#00ff40" stroke-width="1.7"><circle cx="749" cy="526.3" r="6.2"/><circle cx="763" cy="527.3" r="6.2"/><circle cx="778.4" cy="515.1" r="6.2"/><circle cx="786" cy="499.9" r="6.2"/><circle cx="794.9" cy="485.4" r="6.2"/><circle cx="803.9" cy="470.4" r="6.2"/><circle cx="812" cy="443.9" r="6.2"/><circle cx="820.9" cy="419.9" r="6.2"/><circle cx="829.1" cy="400.5" r="6.2"/><circle cx="837.5" cy="362.1" r="6.2"/><circle cx="845.3" cy="322.2" r="6.2"/><circle cx="851.9" cy="276.5" r="6.2"/><circle cx="860.2" cy="223" r="6.2"/><circle cx="867.9" cy="174.6" r="6.2"/><circle cx="877.6" cy="140.5" r="6.2"/><circle cx="886.2" cy="143.8" r="6.2"/><circle cx="894.8" cy="150.2" r="6.2"/><circle cx="903.1" cy="133.2" r="6.2"/><circle cx="912" cy="104.5" r="6.2"/><circle cx="919.7" cy="68.8" r="6.2"/><circle cx="929.5" cy="62.8" r="6.2"/><circle cx="936.2" cy="73" r="6.2"/><circle cx="943" cy="90.6" r="6.2"/><circle cx="949.7" cy="114.2" r="6.2"/><circle cx="956.4" cy="138.5" r="6.2"/><circle cx="963.2" cy="164.8" r="6.2"/><circle cx="969.9" cy="191" r="6.2"/><circle cx="976.6" cy="215.7" r="6.2"/><circle cx="983.4" cy="242.5" r="6.2"/><circle cx="990.1" cy="268.8" r="6.2"/><circle cx="996.8" cy="290.6" r="6.2"/><circle cx="1003.6" cy="312.6" r="6.2"/><circle cx="1010.3" cy="331.8" r="6.2"/><circle cx="1017" cy="349" r="6.2"/><circle cx="1023.8" cy="365.3" r="6.2"/><circle cx="1030.5" cy="379.7" r="6.2"/><circle cx="1037.2" cy="392.5" r="6.2"/><circle cx="1044" cy="403.8" r="6.2"/><circle cx="1050.7" cy="412.6" r="6.2"/><circle cx="1057.4" cy="419.8" r="6.2"/><circle cx="1064.2" cy="426.9" r="6.2"/><circle cx="1070.9" cy="433" r="6.2"/><circle cx="1077.6" cy="439.4" r="6.2"/><circle cx="1084.4" cy="445.9" r="6.2"/><circle cx="1091.1" cy="452.2" r="6.2"/><circle cx="1097.8" cy="458.5" r="6.2"/><circle cx="1104.6" cy="464.1" r="6.2"/><circle cx="1111.3" cy="469.3" r="6.2"/><circle cx="1118" cy="474.1" r="6.2"/><circle cx="1124.8" cy="478.7" r="6.2"/><circle cx="1131.5" cy="483" r="6.2"/><circle cx="1138.2" cy="486.9" r="6.2"/><circle cx="1145" cy="490.2" r="6.2"/><circle cx="1151.7" cy="493.4" r="6.2"/><circle cx="1158.4" cy="496.7" r="6.2"/><circle cx="1165.2" cy="499.8" r="6.2"/><circle cx="1171.9" cy="502.7" r="6.2"/><circle cx="1178.6" cy="505.3" r="6.2"/><circle cx="1185.4" cy="507.8" r="6.2"/></g>
<path d="M749.8 525.6 L763.9 525.9 L778.1 514.2 L785.6 499 L794.6 484.4 L803.5 469.2 L811.6 442.5 L820.6 418.4 L828.7 398.9 L837.2 360.4 L845.1 320.3 L851.9 274.3 L860.2 221 L867.9 172.8 L877.6 138.2 L886.2 141.5 L894.8 148 L903.1 131.4 L912 103.1 L919.7 68.9 L929.4 62.8 L935.8 72 L942.1 88.1 L948.5 109.8 L954.9 133.2 L961.2 156.5 L967.6 182.9 L974 205.2 L980.3 230.4 L986.7 255.6 L993.1 278.5 L999.4 298.5 L1005.8 318.8 L1012.2 336.1 L1018.5 352.2 L1024.9 367.2 L1031.2 380.6 L1037.6 392.5 L1044 403.1 L1050.3 411.3 L1056.7 418.2 L1063.1 424.9 L1069.4 430.8 L1075.8 436.8 L1082.2 442.9 L1088.5 449 L1094.9 455.1 L1101.3 460.7 L1107.6 465.8 L1114 470.6 L1120.4 475 L1126.7 479.3 L1133.1 483.3 L1139.5 486.9 L1145.8 490.1 L1152.2 493.1 L1158.6 496.2 L1164.9 499.2" stroke="#80ff00" stroke-width="3.0"/>
<g stroke="#80ff00" stroke-width="1.7"><circle cx="749.8" cy="525.6" r="6.2"/><circle cx="763.9" cy="525.9" r="6.2"/><circle cx="778.1" cy="514.2" r="6.2"/><circle cx="785.6" cy="499" r="6.2"/><circle cx="794.6" cy="484.4" r="6.2"/><circle cx="803.5" cy="469.2" r="6.2"/><circle cx="811.6" cy="442.5" r="6.2"/><circle cx="820.6" cy="418.4" r="6.2"/><circle cx="828.7" cy="398.9" r="6.2"/><circle cx="837.2" cy="360.4" r="6.2"/><circle cx="845.1" cy="320.3" r="6.2"/><circle cx="851.9" cy="274.3" r="6.2"/><circle cx="860.2" cy="221" r="6.2"/><circle cx="867.9" cy="172.8" r="6.2"/><circle cx="877.6" cy="138.2" r="6.2"/><circle cx="886.2" cy="141.5" r="6.2"/><circle cx="894.8" cy="148" r="6.2"/><circle cx="903.1" cy="131.4" r="6.2"/><circle cx="912" cy="103.1" r="6.2"/><circle cx="919.7" cy="68.9" r="6.2"/><circle cx="929.4" cy="62.8" r="6.2"/><circle cx="935.8" cy="72" r="6.2"/><circle cx="942.1" cy="88.1" r="6.2"/><circle cx="948.5" cy="109.8" r="6.2"/><circle cx="954.9" cy="133.2" r="6.2"/><circle cx="961.2" cy="156.5" r="6.2"/><circle cx="967.6" cy="182.9" r="6.2"/><circle cx="974" cy="205.2" r="6.2"/><circle cx="980.3" cy="230.4" r="6.2"/><circle cx="986.7" cy="255.6" r="6.2"/><circle cx="993.1" cy="278.5" r="6.2"/><circle cx="999.4" cy="298.5" r="6.2"/><circle cx="1005.8" cy="318.8" r="6.2"/><circle cx="1012.2" cy="336.1" r="6.2"/><circle cx="1018.5" cy="352.2" r="6.2"/><circle cx="1024.9" cy="367.2" r="6.2"/><circle cx="1031.2" cy="380.6" r="6.2"/><circle cx="1037.6" cy="392.5" r="6.2"/><circle cx="1044" cy="403.1" r="6.2"/><circle cx="1050.3" cy="411.3" r="6.2"/><circle cx="1056.7" cy="418.2" r="6.2"/><circle cx="1063.1" cy="424.9" r="6.2"/><circle cx="1069.4" cy="430.8" r="6.2"/><circle cx="1075.8" cy="436.8" r="6.2"/><circle cx="1082.2" cy="442.9" r="6.2"/><circle cx="1088.5" cy="449" r="6.2"/><circle cx="1094.9" cy="455.1" r="6.2"/><circle cx="1101.3" cy="460.7" r="6.2"/><circle cx="1107.6" cy="465.8" r="6.2"/><circle cx="1114" cy="470.6" r="6.2"/><circle cx="1120.4" cy="475" r="6.2"/><circle cx="1126.7" cy="479.3" r="6.2"/><circle cx="1133.1" cy="483.3" r="6.2"/><circle cx="1139.5" cy="486.9" r="6.2"/><circle cx="1145.8" cy="490.1" r="6.2"/><circle cx="1152.2" cy="493.1" r="6.2"/><circle cx="1158.6" cy="496.2" r="6.2"/><circle cx="1164.9" cy="499.2" r="6.2"/></g>
<path d="M750.4 525 L764.6 524.8 L777.9 513.5 L785.4 498.2 L794.3 483.6 L803.2 468.2 L811.4 441.4 L820.3 417.2 L828.4 397.6 L836.9 359 L845 318.7 L851.9 272.5 L860.2 219.4 L867.9 171.3 L877.6 136.3 L886.2 139.7 L894.8 146.3 L903.1 129.9 L912 102 L919.7 69 L929.3 62.8 L935.4 71.3 L941.5 86.3 L947.6 106.6 L953.7 129.1 L959.8 150.6 L965.8 176.3 L971.9 197.8 L978 221 L984.1 245.2 L990.2 268.6 L996.3 288.2 L1002.4 307.9 L1008.5 325.9 L1014.6 341.7 L1020.7 356.9 L1026.8 370.7 L1032.8 383 L1038.9 394.1 L1045 403.8 L1051.1 411.4 L1057.2 417.9 L1063.3 424.2 L1069.4 429.9 L1075.5 435.6 L1081.6 441.5 L1087.7 447.4 L1093.7 453.2 L1099.8 458.8 L1105.9 463.8 L1112 468.4 L1118.1 472.8 L1124.2 477 L1130.3 481 L1136.4 484.6 L1142.5 487.8 L1148.6 490.8" stroke="#d2ff00" stroke-width="3.0"/>
<g stroke="#d2ff00" stroke-width="1.7"><circle cx="750.4" cy="525" r="6.2"/><circle cx="764.6" cy="524.8" r="6.2"/><circle cx="777.9" cy="513.5" r="6.2"/><circle cx="785.4" cy="498.2" r="6.2"/><circle cx="794.3" cy="483.6" r="6.2"/><circle cx="803.2" cy="468.2" r="6.2"/><circle cx="811.4" cy="441.4" r="6.2"/><circle cx="820.3" cy="417.2" r="6.2"/><circle cx="828.4" cy="397.6" r="6.2"/><circle cx="836.9" cy="359" r="6.2"/><circle cx="845" cy="318.7" r="6.2"/><circle cx="851.9" cy="272.5" r="6.2"/><circle cx="860.2" cy="219.4" r="6.2"/><circle cx="867.9" cy="171.3" r="6.2"/><circle cx="877.6" cy="136.3" r="6.2"/><circle cx="886.2" cy="139.7" r="6.2"/><circle cx="894.8" cy="146.3" r="6.2"/><circle cx="903.1" cy="129.9" r="6.2"/><circle cx="912" cy="102" r="6.2"/><circle cx="919.7" cy="69" r="6.2"/><circle cx="929.3" cy="62.8" r="6.2"/><circle cx="935.4" cy="71.3" r="6.2"/><circle cx="941.5" cy="86.3" r="6.2"/><circle cx="947.6" cy="106.6" r="6.2"/><circle cx="953.7" cy="129.1" r="6.2"/><circle cx="959.8" cy="150.6" r="6.2"/><circle cx="965.8" cy="176.3" r="6.2"/><circle cx="971.9" cy="197.8" r="6.2"/><circle cx="978" cy="221" r="6.2"/><circle cx="984.1" cy="245.2" r="6.2"/><circle cx="990.2" cy="268.6" r="6.2"/><circle cx="996.3" cy="288.2" r="6.2"/><circle cx="1002.4" cy="307.9" r="6.2"/><circle cx="1008.5" cy="325.9" r="6.2"/><circle cx="1014.6" cy="341.7" r="6.2"/><circle cx="1020.7" cy="356.9" r="6.2"/><circle cx="1026.8" cy="370.7" r="6.2"/><circle cx="1032.8" cy="383" r="6.2"/><circle cx="1038.9" cy="394.1" r="6.2"/><circle cx="1045" cy="403.8" r="6.2"/><circle cx="1051.1" cy="411.4" r="6.2"/><circle cx="1057.2" cy="417.9" r="6.2"/><circle cx="1063.3" cy="424.2" r="6.2"/><circle cx="1069.4" cy="429.9" r="6.2"/><circle cx="1075.5" cy="435.6" r="6.2"/><circle cx="1081.6" cy="441.5" r="6.2"/><circle cx="1087.7" cy="447.4" r="6.2"/><circle cx="1093.7" cy="453.2" r="6.2"/><circle cx="1099.8" cy="458.8" r="6.2"/><circle cx="1105.9" cy="463.8" r="6.2"/><circle cx="1112" cy="468.4" r="6.2"/><circle cx="1118.1" cy="472.8" r="6.2"/><circle cx="1124.2" cy="477" r="6.2"/><circle cx="1130.3" cy="481" r="6.2"/><circle cx="1136.4" cy="484.6" r="6.2"/><circle cx="1142.5" cy="487.8" r="6.2"/><circle cx="1148.6" cy="490.8" r="6.2"/></g>
<path d="M750.9 524.6 L765.2 523.9 L777.7 513 L785.1 497.6 L794.1 482.9 L803 467.5 L811.2 440.5 L820.1 416.2 L828.2 396.5 L836.7 357.9 L844.9 317.5 L851.9 271.1 L860.2 218.1 L867.9 170.1 L877.6 134.8 L886.2 138.1 L894.8 144.8 L903.1 128.7 L912 101.1 L919.7 69.1 L929.2 62.7 L935 70.7 L940.9 84.7 L946.7 103.7 L952.6 125.4 L958.4 145.7 L964.3 169.8 L970.1 191.6 L976 212.8 L981.8 236 L987.7 259 L993.5 279.3 L999.4 297.5 L1005.2 316.2 L1011.1 332.2 L1016.9 347 L1022.7 361.2 L1028.6 373.9 L1034.4 385.3 L1040.3 395.7 L1046.1 404.6 L1052 411.5 L1057.8 417.6 L1063.7 423.7 L1069.5 429.1 L1075.4 434.6 L1081.2 440.4 L1087.1 446 L1092.9 451.7 L1098.7 457.1 L1104.6 462 L1110.4 466.6 L1116.3 470.9 L1122.1 475 L1128 478.9 L1133.8 482.5" stroke="#ffc800" stroke-width="3.0"/>
<g stroke="#ffc800" stroke-width="1.7"><circle cx="750.9" cy="524.6" r="6.2"/><circle cx="765.2" cy="523.9" r="6.2"/><circle cx="777.7" cy="513" r="6.2"/><circle cx="785.1" cy="497.6" r="6.2"/><circle cx="794.1" cy="482.9" r="6.2"/><circle cx="803" cy="467.5" r="6.2"/><circle cx="811.2" cy="440.5" r="6.2"/><circle cx="820.1" cy="416.2" r="6.2"/><circle cx="828.2" cy="396.5" r="6.2"/><circle cx="836.7" cy="357.9" r="6.2"/><circle cx="844.9" cy="317.5" r="6.2"/><circle cx="851.9" cy="271.1" r="6.2"/><circle cx="860.2" cy="218.1" r="6.2"/><circle cx="867.9" cy="170.1" r="6.2"/><circle cx="877.6" cy="134.8" r="6.2"/><circle cx="886.2" cy="138.1" r="6.2"/><circle cx="894.8" cy="144.8" r="6.2"/><circle cx="903.1" cy="128.7" r="6.2"/><circle cx="912" cy="101.1" r="6.2"/><circle cx="919.7" cy="69.1" r="6.2"/><circle cx="929.2" cy="62.7" r="6.2"/><circle cx="935" cy="70.7" r="6.2"/><circle cx="940.9" cy="84.7" r="6.2"/><circle cx="946.7" cy="103.7" r="6.2"/><circle cx="952.6" cy="125.4" r="6.2"/><circle cx="958.4" cy="145.7" r="6.2"/><circle cx="964.3" cy="169.8" r="6.2"/><circle cx="970.1" cy="191.6" r="6.2"/><circle cx="976" cy="212.8" r="6.2"/><circle cx="981.8" cy="236" r="6.2"/><circle cx="987.7" cy="259" r="6.2"/><circle cx="993.5" cy="279.3" r="6.2"/><circle cx="999.4" cy="297.5" r="6.2"/><circle cx="1005.2" cy="316.2" r="6.2"/><circle cx="1011.1" cy="332.2" r="6.2"/><circle cx="1016.9" cy="347" r="6.2"/><circle cx="1022.7" cy="361.2" r="6.2"/><circle cx="1028.6" cy="373.9" r="6.2"/><circle cx="1034.4" cy="385.3" r="6.2"/><circle cx="1040.3" cy="395.7" r="6.2"/><circle cx="1046.1" cy="404.6" r="6.2"/><circle cx="1052" cy="411.5" r="6.2"/><circle cx="1057.8" cy="417.6" r="6.2"/><circle cx="1063.7" cy="423.7" r="6.2"/><circle cx="1069.5" cy="429.1" r="6.2"/><circle cx="1075.4" cy="434.6" r="6.2"/><circle cx="1081.2" cy="440.4" r="6.2"/><circle cx="1087.1" cy="446" r="6.2"/><circle cx="1092.9" cy="451.7" r="6.2"/><circle cx="1098.7" cy="457.1" r="6.2"/><circle cx="1104.6" cy="462" r="6.2"/><circle cx="1110.4" cy="466.6" r="6.2"/><circle cx="1116.3" cy="470.9" r="6.2"/><circle cx="1122.1" cy="475" r="6.2"/><circle cx="1128" cy="478.9" r="6.2"/><circle cx="1133.8" cy="482.5" r="6.2"/></g>
<path d="M751.3 524.2 L765.7 523.2 L777.5 512.5 L785 497.1 L793.9 482.4 L802.8 466.8 L811 439.8 L819.9 415.3 L828 395.6 L836.5 356.9 L844.8 316.5 L851.9 269.8 L860.2 217 L867.9 169.1 L877.6 133.5 L886.2 136.9 L894.8 143.6 L903.1 127.7 L912 100.3 L919.7 69.2 L929.1 62.7 L934.7 70.1 L940.3 83.2 L945.9 101.1 L951.5 121.7 L957.2 141.2 L962.8 163.4 L968.4 185.5 L974 205.1 L979.6 227.1 L985.2 249.3 L990.8 270.2 L996.4 288 L1002.1 306.1 L1007.7 322.7 L1013.3 337.4 L1018.9 351.4 L1024.5 364.5 L1030.1 376.3 L1035.7 387 L1041.3 396.7 L1046.9 404.8 L1052.6 411.3 L1058.2 417.1 L1063.8 422.9 L1069.4 428.1 L1075 433.4 L1080.6 439 L1086.2 444.5 L1091.8 449.9 L1097.5 455.2 L1103.1 460 L1108.7 464.5 L1114.3 468.7 L1119.9 472.7" stroke="#ff6400" stroke-width="3.0"/>
<g stroke="#ff6400" stroke-width="1.7"><circle cx="751.3" cy="524.2" r="6.2"/><circle cx="765.7" cy="523.2" r="6.2"/><circle cx="777.5" cy="512.5" r="6.2"/><circle cx="785" cy="497.1" r="6.2"/><circle cx="793.9" cy="482.4" r="6.2"/><circle cx="802.8" cy="466.8" r="6.2"/><circle cx="811" cy="439.8" r="6.2"/><circle cx="819.9" cy="415.3" r="6.2"/><circle cx="828" cy="395.6" r="6.2"/><circle cx="836.5" cy="356.9" r="6.2"/><circle cx="844.8" cy="316.5" r="6.2"/><circle cx="851.9" cy="269.8" r="6.2"/><circle cx="860.2" cy="217" r="6.2"/><circle cx="867.9" cy="169.1" r="6.2"/><circle cx="877.6" cy="133.5" r="6.2"/><circle cx="886.2" cy="136.9" r="6.2"/><circle cx="894.8" cy="143.6" r="6.2"/><circle cx="903.1" cy="127.7" r="6.2"/><circle cx="912" cy="100.3" r="6.2"/><circle cx="919.7" cy="69.2" r="6.2"/><circle cx="929.1" cy="62.7" r="6.2"/><circle cx="934.7" cy="70.1" r="6.2"/><circle cx="940.3" cy="83.2" r="6.2"/><circle cx="945.9" cy="101.1" r="6.2"/><circle cx="951.5" cy="121.7" r="6.2"/><circle cx="957.2" cy="141.2" r="6.2"/><circle cx="962.8" cy="163.4" r="6.2"/><circle cx="968.4" cy="185.5" r="6.2"/><circle cx="974" cy="205.1" r="6.2"/><circle cx="979.6" cy="227.1" r="6.2"/><circle cx="985.2" cy="249.3" r="6.2"/><circle cx="990.8" cy="270.2" r="6.2"/><circle cx="996.4" cy="288" r="6.2"/><circle cx="1002.1" cy="306.1" r="6.2"/><circle cx="1007.7" cy="322.7" r="6.2"/><circle cx="1013.3" cy="337.4" r="6.2"/><circle cx="1018.9" cy="351.4" r="6.2"/><circle cx="1024.5" cy="364.5" r="6.2"/><circle cx="1030.1" cy="376.3" r="6.2"/><circle cx="1035.7" cy="387" r="6.2"/><circle cx="1041.3" cy="396.7" r="6.2"/><circle cx="1046.9" cy="404.8" r="6.2"/><circle cx="1052.6" cy="411.3" r="6.2"/><circle cx="1058.2" cy="417.1" r="6.2"/><circle cx="1063.8" cy="422.9" r="6.2"/><circle cx="1069.4" cy="428.1" r="6.2"/><circle cx="1075" cy="433.4" r="6.2"/><circle cx="1080.6" cy="439" r="6.2"/><circle cx="1086.2" cy="444.5" r="6.2"/><circle cx="1091.8" cy="449.9" r="6.2"/><circle cx="1097.5" cy="455.2" r="6.2"/><circle cx="1103.1" cy="460" r="6.2"/><circle cx="1108.7" cy="464.5" r="6.2"/><circle cx="1114.3" cy="468.7" r="6.2"/><circle cx="1119.9" cy="472.7" r="6.2"/></g>
<path d="M751.7 523.9 L766.1 522.5 L777.4 512.1 L784.8 496.7 L793.7 481.9 L802.7 466.3 L810.8 439.2 L819.8 414.6 L827.9 394.8 L836.3 356.1 L844.7 315.6 L851.9 268.8 L860.2 216 L867.9 168.3 L877.6 132.4 L886.2 135.8 L894.8 142.6 L903.1 126.9 L912 99.6 L919.7 69.2 L929 62.7 L934.3 69.4 L939.6 81.4 L944.9 97.8 L950.2 116.9 L955.5 135.6 L960.8 155 L966.1 177.3 L971.4 195.7 L976.7 215.5 L982 236.4 L987.3 257.3 L992.6 275.8 L997.9 292.2 L1003.2 309.4 L1008.5 324.5 L1013.8 338.2 L1019.1 351.4 L1024.4 363.7 L1029.7 374.9 L1035 385 L1040.3 394.3 L1045.6 402.3 L1050.9 408.7 L1056.2 414.3 L1061.5 419.8 L1066.8 424.9 L1072.1 429.8 L1077.4 435 L1082.7 440.2 L1088 445.4 L1093.3 450.5 L1098.6 455.5 L1103.9 460 L1109.2 464.2" stroke="#ff4600" stroke-width="3.0"/>
<g stroke="#ff4600" stroke-width="1.7"><circle cx="751.7" cy="523.9" r="6.2"/><circle cx="766.1" cy="522.5" r="6.2"/><circle cx="777.4" cy="512.1" r="6.2"/><circle cx="784.8" cy="496.7" r="6.2"/><circle cx="793.7" cy="481.9" r="6.2"/><circle cx="802.7" cy="466.3" r="6.2"/><circle cx="810.8" cy="439.2" r="6.2"/><circle cx="819.8" cy="414.6" r="6.2"/><circle cx="827.9" cy="394.8" r="6.2"/><circle cx="836.3" cy="356.1" r="6.2"/><circle cx="844.7" cy="315.6" r="6.2"/><circle cx="851.9" cy="268.8" r="6.2"/><circle cx="860.2" cy="216" r="6.2"/><circle cx="867.9" cy="168.3" r="6.2"/><circle cx="877.6" cy="132.4" r="6.2"/><circle cx="886.2" cy="135.8" r="6.2"/><circle cx="894.8" cy="142.6" r="6.2"/><circle cx="903.1" cy="126.9" r="6.2"/><circle cx="912" cy="99.6" r="6.2"/><circle cx="919.7" cy="69.2" r="6.2"/><circle cx="929" cy="62.7" r="6.2"/><circle cx="934.3" cy="69.4" r="6.2"/><circle cx="939.6" cy="81.4" r="6.2"/><circle cx="944.9" cy="97.8" r="6.2"/><circle cx="950.2" cy="116.9" r="6.2"/><circle cx="955.5" cy="135.6" r="6.2"/><circle cx="960.8" cy="155" r="6.2"/><circle cx="966.1" cy="177.3" r="6.2"/><circle cx="971.4" cy="195.7" r="6.2"/><circle cx="976.7" cy="215.5" r="6.2"/><circle cx="982" cy="236.4" r="6.2"/><circle cx="987.3" cy="257.3" r="6.2"/><circle cx="992.6" cy="275.8" r="6.2"/><circle cx="997.9" cy="292.2" r="6.2"/><circle cx="1003.2" cy="309.4" r="6.2"/><circle cx="1008.5" cy="324.5" r="6.2"/><circle cx="1013.8" cy="338.2" r="6.2"/><circle cx="1019.1" cy="351.4" r="6.2"/><circle cx="1024.4" cy="363.7" r="6.2"/><circle cx="1029.7" cy="374.9" r="6.2"/><circle cx="1035" cy="385" r="6.2"/><circle cx="1040.3" cy="394.3" r="6.2"/><circle cx="1045.6" cy="402.3" r="6.2"/><circle cx="1050.9" cy="408.7" r="6.2"/><circle cx="1056.2" cy="414.3" r="6.2"/><circle cx="1061.5" cy="419.8" r="6.2"/><circle cx="1066.8" cy="424.9" r="6.2"/><circle cx="1072.1" cy="429.8" r="6.2"/><circle cx="1077.4" cy="435" r="6.2"/><circle cx="1082.7" cy="440.2" r="6.2"/><circle cx="1088" cy="445.4" r="6.2"/><circle cx="1093.3" cy="450.5" r="6.2"/><circle cx="1098.6" cy="455.5" r="6.2"/><circle cx="1103.9" cy="460" r="6.2"/><circle cx="1109.2" cy="464.2" r="6.2"/></g>
<path d="M752 523.6 L766.5 522 L777.3 511.7 L784.7 496.3 L793.6 481.5 L802.5 465.8 L810.7 438.6 L819.6 414 L827.7 394.2 L836.2 355.4 L844.6 314.8 L851.9 267.9 L860.2 215.2 L867.9 167.6 L877.6 131.5 L886.2 134.9 L894.8 141.7 L903.1 126.2 L912 99.1 L919.7 69.3 L928.9 62.7 L933.9 68.6 L938.9 79.8 L943.9 94.5 L948.9 111.9 L953.8 130.1 L958.8 147.3 L963.8 168.1 L968.8 186.9 L973.8 204.3 L978.8 223.7 L983.8 243.3 L988.8 262.5 L993.8 279.1 L998.8 294.5 L1003.7 310.6 L1008.7 324.6 L1013.7 337.4 L1018.7 349.8 L1023.7 361.6 L1028.7 372.2 L1033.7 381.9 L1038.7 390.8 L1043.7 398.8 L1048.7 405.3 L1053.7 410.8 L1058.6 415.9 L1063.6 421 L1068.6 425.7 L1073.6 430.4 L1078.6 435.3 L1083.6 440.3 L1088.6 445.2 L1093.6 450 L1098.6 454.7" stroke="#ff1e0a" stroke-width="3.0"/>
<g stroke="#ff1e0a" stroke-width="1.7"><circle cx="752" cy="523.6" r="6.2"/><circle cx="766.5" cy="522" r="6.2"/><circle cx="777.3" cy="511.7" r="6.2"/><circle cx="784.7" cy="496.3" r="6.2"/><circle cx="793.6" cy="481.5" r="6.2"/><circle cx="802.5" cy="465.8" r="6.2"/><circle cx="810.7" cy="438.6" r="6.2"/><circle cx="819.6" cy="414" r="6.2"/><circle cx="827.7" cy="394.2" r="6.2"/><circle cx="836.2" cy="355.4" r="6.2"/><circle cx="844.6" cy="314.8" r="6.2"/><circle cx="851.9" cy="267.9" r="6.2"/><circle cx="860.2" cy="215.2" r="6.2"/><circle cx="867.9" cy="167.6" r="6.2"/><circle cx="877.6" cy="131.5" r="6.2"/><circle cx="886.2" cy="134.9" r="6.2"/><circle cx="894.8" cy="141.7" r="6.2"/><circle cx="903.1" cy="126.2" r="6.2"/><circle cx="912" cy="99.1" r="6.2"/><circle cx="919.7" cy="69.3" r="6.2"/><circle cx="928.9" cy="62.7" r="6.2"/><circle cx="933.9" cy="68.6" r="6.2"/><circle cx="938.9" cy="79.8" r="6.2"/><circle cx="943.9" cy="94.5" r="6.2"/><circle cx="948.9" cy="111.9" r="6.2"/><circle cx="953.8" cy="130.1" r="6.2"/><circle cx="958.8" cy="147.3" r="6.2"/><circle cx="963.8" cy="168.1" r="6.2"/><circle cx="968.8" cy="186.9" r="6.2"/><circle cx="973.8" cy="204.3" r="6.2"/><circle cx="978.8" cy="223.7" r="6.2"/><circle cx="983.8" cy="243.3" r="6.2"/><circle cx="988.8" cy="262.5" r="6.2"/><circle cx="993.8" cy="279.1" r="6.2"/><circle cx="998.8" cy="294.5" r="6.2"/><circle cx="1003.7" cy="310.6" r="6.2"/><circle cx="1008.7" cy="324.6" r="6.2"/><circle cx="1013.7" cy="337.4" r="6.2"/><circle cx="1018.7" cy="349.8" r="6.2"/><circle cx="1023.7" cy="361.6" r="6.2"/><circle cx="1028.7" cy="372.2" r="6.2"/><circle cx="1033.7" cy="381.9" r="6.2"/><circle cx="1038.7" cy="390.8" r="6.2"/><circle cx="1043.7" cy="398.8" r="6.2"/><circle cx="1048.7" cy="405.3" r="6.2"/><circle cx="1053.7" cy="410.8" r="6.2"/><circle cx="1058.6" cy="415.9" r="6.2"/><circle cx="1063.6" cy="421" r="6.2"/><circle cx="1068.6" cy="425.7" r="6.2"/><circle cx="1073.6" cy="430.4" r="6.2"/><circle cx="1078.6" cy="435.3" r="6.2"/><circle cx="1083.6" cy="440.3" r="6.2"/><circle cx="1088.6" cy="445.2" r="6.2"/><circle cx="1093.6" cy="450" r="6.2"/><circle cx="1098.6" cy="454.7" r="6.2"/></g>
<path d="M752.3 523.4 L766.8 521.5 L777.2 511.4 L784.5 496 L793.5 481.2 L802.4 465.4 L810.6 438.2 L819.5 413.5 L827.6 393.6 L836.1 354.8 L844.6 314.2 L851.9 267.2 L860.2 214.6 L867.9 166.9 L877.6 130.7 L886.2 134.1 L894.8 141 L903.1 125.5 L912 98.6 L919.7 69.3 L928.8 62.6 L933.6 68.1 L938.3 78.7 L943.1 92.2 L947.9 108.5 L952.7 126.1 L957.4 142.4 L962.2 161.2 L967 180.5 L971.8 196.8 L976.5 214.7 L981.3 233.5 L986.1 252.2 L990.9 269.5 L995.6 284.4 L1000.4 299.5 L1005.2 314.3 L1010 327.3 L1014.7 339.4 L1019.5 351.2 L1024.3 362.2 L1029.1 372.2 L1033.8 381.5 L1038.6 389.9 L1043.4 397.6 L1048.2 403.9 L1052.9 409.2 L1057.7 414.1 L1062.5 419 L1067.3 423.5 L1072 428 L1076.8 432.7 L1081.6 437.5 L1086.4 442.2 L1091.1 446.9" stroke="#ff0f05" stroke-width="3.0"/>
<g stroke="#ff0f05" stroke-width="1.7"><circle cx="752.3" cy="523.4" r="6.2"/><circle cx="766.8" cy="521.5" r="6.2"/><circle cx="777.2" cy="511.4" r="6.2"/><circle cx="784.5" cy="496" r="6.2"/><circle cx="793.5" cy="481.2" r="6.2"/><circle cx="802.4" cy="465.4" r="6.2"/><circle cx="810.6" cy="438.2" r="6.2"/><circle cx="819.5" cy="413.5" r="6.2"/><circle cx="827.6" cy="393.6" r="6.2"/><circle cx="836.1" cy="354.8" r="6.2"/><circle cx="844.6" cy="314.2" r="6.2"/><circle cx="851.9" cy="267.2" r="6.2"/><circle cx="860.2" cy="214.6" r="6.2"/><circle cx="867.9" cy="166.9" r="6.2"/><circle cx="877.6" cy="130.7" r="6.2"/><circle cx="886.2" cy="134.1" r="6.2"/><circle cx="894.8" cy="141" r="6.2"/><circle cx="903.1" cy="125.5" r="6.2"/><circle cx="912" cy="98.6" r="6.2"/><circle cx="919.7" cy="69.3" r="6.2"/><circle cx="928.8" cy="62.6" r="6.2"/><circle cx="933.6" cy="68.1" r="6.2"/><circle cx="938.3" cy="78.7" r="6.2"/><circle cx="943.1" cy="92.2" r="6.2"/><circle cx="947.9" cy="108.5" r="6.2"/><circle cx="952.7" cy="126.1" r="6.2"/><circle cx="957.4" cy="142.4" r="6.2"/><circle cx="962.2" cy="161.2" r="6.2"/><circle cx="967" cy="180.5" r="6.2"/><circle cx="971.8" cy="196.8" r="6.2"/><circle cx="976.5" cy="214.7" r="6.2"/><circle cx="981.3" cy="233.5" r="6.2"/><circle cx="986.1" cy="252.2" r="6.2"/><circle cx="990.9" cy="269.5" r="6.2"/><circle cx="995.6" cy="284.4" r="6.2"/><circle cx="1000.4" cy="299.5" r="6.2"/><circle cx="1005.2" cy="314.3" r="6.2"/><circle cx="1010" cy="327.3" r="6.2"/><circle cx="1014.7" cy="339.4" r="6.2"/><circle cx="1019.5" cy="351.2" r="6.2"/><circle cx="1024.3" cy="362.2" r="6.2"/><circle cx="1029.1" cy="372.2" r="6.2"/><circle cx="1033.8" cy="381.5" r="6.2"/><circle cx="1038.6" cy="389.9" r="6.2"/><circle cx="1043.4" cy="397.6" r="6.2"/><circle cx="1048.2" cy="403.9" r="6.2"/><circle cx="1052.9" cy="409.2" r="6.2"/><circle cx="1057.7" cy="414.1" r="6.2"/><circle cx="1062.5" cy="419" r="6.2"/><circle cx="1067.3" cy="423.5" r="6.2"/><circle cx="1072" cy="428" r="6.2"/><circle cx="1076.8" cy="432.7" r="6.2"/><circle cx="1081.6" cy="437.5" r="6.2"/><circle cx="1086.4" cy="442.2" r="6.2"/><circle cx="1091.1" cy="446.9" r="6.2"/></g>
<path d="M752.5 523.2 L767.1 521.1 L777.1 511.2 L784.4 495.7 L793.4 480.9 L802.3 465.1 L810.5 437.8 L819.4 413 L827.5 393.1 L836 354.3 L844.5 313.6 L851.9 266.5 L860.2 213.9 L867.9 166.4 L877.6 130 L886.2 133.4 L894.8 140.3 L903.1 125 L912 98.2 L919.7 69.4 L928.7 62.6 L933.2 67.5 L937.6 77.2 L942.1 89.2 L946.6 104 L951.1 120.5 L955.5 135.9 L960 152 L964.5 171 L969 187.3 L973.5 202.8 L977.9 220.1 L982.4 237.5 L986.9 255 L991.4 270.8 L995.8 284.6 L1000.3 298.8 L1004.8 312.7 L1009.3 324.9 L1013.7 336.3 L1018.2 347.5 L1022.7 358 L1027.2 367.7 L1031.6 376.6 L1036.1 384.8 L1040.6 392.5 L1045.1 399.2 L1049.5 404.7 L1054 409.4 L1058.5 414 L1063 418.5 L1067.4 422.8 L1071.9 427 L1076.4 431.4 L1080.9 436 L1085.4 440.4" stroke="#ff0000" stroke-width="3.0"/>
<g stroke="#ff0000" stroke-width="1.7"><circle cx="752.5" cy="523.2" r="6.2"/><circle cx="767.1" cy="521.1" r="6.2"/><circle cx="777.1" cy="511.2" r="6.2"/><circle cx="784.4" cy="495.7" r="6.2"/><circle cx="793.4" cy="480.9" r="6.2"/><circle cx="802.3" cy="465.1" r="6.2"/><circle cx="810.5" cy="437.8" r="6.2"/><circle cx="819.4" cy="413" r="6.2"/><circle cx="827.5" cy="393.1" r="6.2"/><circle cx="836" cy="354.3" r="6.2"/><circle cx="844.5" cy="313.6" r="6.2"/><circle cx="851.9" cy="266.5" r="6.2"/><circle cx="860.2" cy="213.9" r="6.2"/><circle cx="867.9" cy="166.4" r="6.2"/><circle cx="877.6" cy="130" r="6.2"/><circle cx="886.2" cy="133.4" r="6.2"/><circle cx="894.8" cy="140.3" r="6.2"/><circle cx="903.1" cy="125" r="6.2"/><circle cx="912" cy="98.2" r="6.2"/><circle cx="919.7" cy="69.4" r="6.2"/><circle cx="928.7" cy="62.6" r="6.2"/><circle cx="933.2" cy="67.5" r="6.2"/><circle cx="937.6" cy="77.2" r="6.2"/><circle cx="942.1" cy="89.2" r="6.2"/><circle cx="946.6" cy="104" r="6.2"/><circle cx="951.1" cy="120.5" r="6.2"/><circle cx="955.5" cy="135.9" r="6.2"/><circle cx="960" cy="152" r="6.2"/><circle cx="964.5" cy="171" r="6.2"/><circle cx="969" cy="187.3" r="6.2"/><circle cx="973.5" cy="202.8" r="6.2"/><circle cx="977.9" cy="220.1" r="6.2"/><circle cx="982.4" cy="237.5" r="6.2"/><circle cx="986.9" cy="255" r="6.2"/><circle cx="991.4" cy="270.8" r="6.2"/><circle cx="995.8" cy="284.6" r="6.2"/><circle cx="1000.3" cy="298.8" r="6.2"/><circle cx="1004.8" cy="312.7" r="6.2"/><circle cx="1009.3" cy="324.9" r="6.2"/><circle cx="1013.7" cy="336.3" r="6.2"/><circle cx="1018.2" cy="347.5" r="6.2"/><circle cx="1022.7" cy="358" r="6.2"/><circle cx="1027.2" cy="367.7" r="6.2"/><circle cx="1031.6" cy="376.6" r="6.2"/><circle cx="1036.1" cy="384.8" r="6.2"/><circle cx="1040.6" cy="392.5" r="6.2"/><circle cx="1045.1" cy="399.2" r="6.2"/><circle cx="1049.5" cy="404.7" r="6.2"/><circle cx="1054" cy="409.4" r="6.2"/><circle cx="1058.5" cy="414" r="6.2"/><circle cx="1063" cy="418.5" r="6.2"/><circle cx="1067.4" cy="422.8" r="6.2"/><circle cx="1071.9" cy="427" r="6.2"/><circle cx="1076.4" cy="431.4" r="6.2"/><circle cx="1080.9" cy="436" r="6.2"/><circle cx="1085.4" cy="440.4" r="6.2"/></g>
<path d="M752.7 523 L767.3 520.7 L777 510.9 L784.4 495.5 L793.3 480.6 L802.2 464.7 L810.4 437.4 L819.3 412.6 L827.4 392.7 L835.9 353.9 L844.5 313.1 L851.9 265.9 L860.2 213.4 L867.9 165.9 L877.6 129.3 L886.2 132.8 L894.8 139.7 L903.1 124.5 L912 97.8 L919.7 69.4 L928.6 62.6 L932.8 66.9 L937 76 L941.2 86.6 L945.5 100.2 L949.7 115.5 L953.9 130.5 L958.1 144.9 L962.4 161.9 L966.6 178.9 L970.8 193.3 L975 208.6 L979.2 225.1 L983.5 241.5 L987.7 257.8 L991.9 272.2 L996.1 285.1 L1000.3 298.5 L1004.6 311.6 L1008.8 323.1 L1013 333.9 L1017.2 344.5 L1021.4 354.6 L1025.7 363.9 L1029.9 372.5 L1034.1 380.5 L1038.3 388 L1042.5 394.8 L1046.8 400.6 L1051 405.4 L1055.2 409.8 L1059.4 414.1 L1063.6 418.3 L1067.9 422.3 L1072.1 426.3 L1076.3 430.5" stroke="#eb0000" stroke-width="3.0"/>
<g stroke="#eb0000" stroke-width="1.7"><circle cx="752.7" cy="523" r="6.2"/><circle cx="767.3" cy="520.7" r="6.2"/><circle cx="777" cy="510.9" r="6.2"/><circle cx="784.4" cy="495.5" r="6.2"/><circle cx="793.3" cy="480.6" r="6.2"/><circle cx="802.2" cy="464.7" r="6.2"/><circle cx="810.4" cy="437.4" r="6.2"/><circle cx="819.3" cy="412.6" r="6.2"/><circle cx="827.4" cy="392.7" r="6.2"/><circle cx="835.9" cy="353.9" r="6.2"/><circle cx="844.5" cy="313.1" r="6.2"/><circle cx="851.9" cy="265.9" r="6.2"/><circle cx="860.2" cy="213.4" r="6.2"/><circle cx="867.9" cy="165.9" r="6.2"/><circle cx="877.6" cy="129.3" r="6.2"/><circle cx="886.2" cy="132.8" r="6.2"/><circle cx="894.8" cy="139.7" r="6.2"/><circle cx="903.1" cy="124.5" r="6.2"/><circle cx="912" cy="97.8" r="6.2"/><circle cx="919.7" cy="69.4" r="6.2"/><circle cx="928.6" cy="62.6" r="6.2"/><circle cx="932.8" cy="66.9" r="6.2"/><circle cx="937" cy="76" r="6.2"/><circle cx="941.2" cy="86.6" r="6.2"/><circle cx="945.5" cy="100.2" r="6.2"/><circle cx="949.7" cy="115.5" r="6.2"/><circle cx="953.9" cy="130.5" r="6.2"/><circle cx="958.1" cy="144.9" r="6.2"/><circle cx="962.4" cy="161.9" r="6.2"/><circle cx="966.6" cy="178.9" r="6.2"/><circle cx="970.8" cy="193.3" r="6.2"/><circle cx="975" cy="208.6" r="6.2"/><circle cx="979.2" cy="225.1" r="6.2"/><circle cx="983.5" cy="241.5" r="6.2"/><circle cx="987.7" cy="257.8" r="6.2"/><circle cx="991.9" cy="272.2" r="6.2"/><circle cx="996.1" cy="285.1" r="6.2"/><circle cx="1000.3" cy="298.5" r="6.2"/><circle cx="1004.6" cy="311.6" r="6.2"/><circle cx="1008.8" cy="323.1" r="6.2"/><circle cx="1013" cy="333.9" r="6.2"/><circle cx="1017.2" cy="344.5" r="6.2"/><circle cx="1021.4" cy="354.6" r="6.2"/><circle cx="1025.7" cy="363.9" r="6.2"/><circle cx="1029.9" cy="372.5" r="6.2"/><circle cx="1034.1" cy="380.5" r="6.2"/><circle cx="1038.3" cy="388" r="6.2"/><circle cx="1042.5" cy="394.8" r="6.2"/><circle cx="1046.8" cy="400.6" r="6.2"/><circle cx="1051" cy="405.4" r="6.2"/><circle cx="1055.2" cy="409.8" r="6.2"/><circle cx="1059.4" cy="414.1" r="6.2"/><circle cx="1063.6" cy="418.3" r="6.2"/><circle cx="1067.9" cy="422.3" r="6.2"/><circle cx="1072.1" cy="426.3" r="6.2"/><circle cx="1076.3" cy="430.5" r="6.2"/></g>
<path d="M752.9 522.8 L767.5 520.4 L776.9 510.7 L784.3 495.3 L793.2 480.4 L802.2 464.5 L810.3 437.1 L819.2 412.2 L827.4 392.3 L835.8 353.5 L844.4 312.6 L851.9 265.4 L860.2 212.9 L867.9 165.5 L877.6 128.8 L886.2 132.3 L894.8 139.2 L903.1 124.1 L912 97.5 L919.7 69.4 L928.5 62.6 L932.4 66.4 L936.4 74.6 L940.3 84.1 L944.3 96.4 L948.2 110.1 L952.2 124.6 L956.1 137.9 L960 152.3 L964 169 L967.9 183.6 L971.9 196.9 L975.8 211.6 L979.8 227.1 L983.7 242.4 L987.7 257.5 L991.6 271 L995.6 283.1 L999.5 295.4 L1003.4 307.9 L1007.4 319 L1011.3 329.2 L1015.3 339.1 L1019.2 348.8 L1023.2 357.9 L1027.1 366.3 L1031.1 374.2 L1035 381.4 L1039 388.3 L1042.9 394.6 L1046.8 399.9 L1050.8 404.4 L1054.7 408.4 L1058.7 412.4 L1062.6 416.4 L1066.6 420.2 L1070.5 423.9" stroke="#d20000" stroke-width="3.0"/>
<g stroke="#d20000" stroke-width="1.7"><circle cx="752.9" cy="522.8" r="6.2"/><circle cx="767.5" cy="520.4" r="6.2"/><circle cx="776.9" cy="510.7" r="6.2"/><circle cx="784.3" cy="495.3" r="6.2"/><circle cx="793.2" cy="480.4" r="6.2"/><circle cx="802.2" cy="464.5" r="6.2"/><circle cx="810.3" cy="437.1" r="6.2"/><circle cx="819.2" cy="412.2" r="6.2"/><circle cx="827.4" cy="392.3" r="6.2"/><circle cx="835.8" cy="353.5" r="6.2"/><circle cx="844.4" cy="312.6" r="6.2"/><circle cx="851.9" cy="265.4" r="6.2"/><circle cx="860.2" cy="212.9" r="6.2"/><circle cx="867.9" cy="165.5" r="6.2"/><circle cx="877.6" cy="128.8" r="6.2"/><circle cx="886.2" cy="132.3" r="6.2"/><circle cx="894.8" cy="139.2" r="6.2"/><circle cx="903.1" cy="124.1" r="6.2"/><circle cx="912" cy="97.5" r="6.2"/><circle cx="919.7" cy="69.4" r="6.2"/><circle cx="928.5" cy="62.6" r="6.2"/><circle cx="932.4" cy="66.4" r="6.2"/><circle cx="936.4" cy="74.6" r="6.2"/><circle cx="940.3" cy="84.1" r="6.2"/><circle cx="944.3" cy="96.4" r="6.2"/><circle cx="948.2" cy="110.1" r="6.2"/><circle cx="952.2" cy="124.6" r="6.2"/><circle cx="956.1" cy="137.9" r="6.2"/><circle cx="960" cy="152.3" r="6.2"/><circle cx="964" cy="169" r="6.2"/><circle cx="967.9" cy="183.6" r="6.2"/><circle cx="971.9" cy="196.9" r="6.2"/><circle cx="975.8" cy="211.6" r="6.2"/><circle cx="979.8" cy="227.1" r="6.2"/><circle cx="983.7" cy="242.4" r="6.2"/><circle cx="987.7" cy="257.5" r="6.2"/><circle cx="991.6" cy="271" r="6.2"/><circle cx="995.6" cy="283.1" r="6.2"/><circle cx="999.5" cy="295.4" r="6.2"/><circle cx="1003.4" cy="307.9" r="6.2"/><circle cx="1007.4" cy="319" r="6.2"/><circle cx="1011.3" cy="329.2" r="6.2"/><circle cx="1015.3" cy="339.1" r="6.2"/><circle cx="1019.2" cy="348.8" r="6.2"/><circle cx="1023.2" cy="357.9" r="6.2"/><circle cx="1027.1" cy="366.3" r="6.2"/><circle cx="1031.1" cy="374.2" r="6.2"/><circle cx="1035" cy="381.4" r="6.2"/><circle cx="1039" cy="388.3" r="6.2"/><circle cx="1042.9" cy="394.6" r="6.2"/><circle cx="1046.8" cy="399.9" r="6.2"/><circle cx="1050.8" cy="404.4" r="6.2"/><circle cx="1054.7" cy="408.4" r="6.2"/><circle cx="1058.7" cy="412.4" r="6.2"/><circle cx="1062.6" cy="416.4" r="6.2"/><circle cx="1066.6" cy="420.2" r="6.2"/><circle cx="1070.5" cy="423.9" r="6.2"/></g>
<path d="M753.1 522.7 L767.7 520.1 L776.9 510.5 L784.2 495.1 L793.1 480.1 L802.1 464.2 L810.2 436.8 L819.2 411.9 L827.3 392 L835.7 353.1 L844.4 312.2 L851.9 264.9 L860.2 212.5 L867.9 165.1 L877.6 128.3 L886.2 131.8 L894.8 138.7 L903.1 123.7 L912 97.2 L919.7 69.5 L928.4 62.5 L932.1 65.9 L935.8 73.4 L939.5 82 L943.2 93.2 L946.9 105.6 L950.6 119.2 L954.3 132 L958 144.7 L961.7 159.5 L965.5 174.8 L969.2 187.6 L972.9 200.3 L976.6 214.4 L980.3 228.9 L984 243.3 L987.7 257.4 L991.4 270 L995.1 281.4 L998.8 292.8 L1002.5 304.7 L1006.2 315.3 L1009.9 325.1 L1013.6 334.4 L1017.3 343.6 L1021.1 352.5 L1024.8 360.7 L1028.5 368.4 L1032.2 375.6 L1035.9 382.3 L1039.6 388.6 L1043.3 394.4 L1047 399.2 L1050.7 403.4 L1054.4 407.3 L1058.1 411 L1061.8 414.7 L1065.5 418.3" stroke="#af0000" stroke-width="3.0"/>
<g stroke="#af0000" stroke-width="1.7"><circle cx="753.1" cy="522.7" r="6.2"/><circle cx="767.7" cy="520.1" r="6.2"/><circle cx="776.9" cy="510.5" r="6.2"/><circle cx="784.2" cy="495.1" r="6.2"/><circle cx="793.1" cy="480.1" r="6.2"/><circle cx="802.1" cy="464.2" r="6.2"/><circle cx="810.2" cy="436.8" r="6.2"/><circle cx="819.2" cy="411.9" r="6.2"/><circle cx="827.3" cy="392" r="6.2"/><circle cx="835.7" cy="353.1" r="6.2"/><circle cx="844.4" cy="312.2" r="6.2"/><circle cx="851.9" cy="264.9" r="6.2"/><circle cx="860.2" cy="212.5" r="6.2"/><circle cx="867.9" cy="165.1" r="6.2"/><circle cx="877.6" cy="128.3" r="6.2"/><circle cx="886.2" cy="131.8" r="6.2"/><circle cx="894.8" cy="138.7" r="6.2"/><circle cx="903.1" cy="123.7" r="6.2"/><circle cx="912" cy="97.2" r="6.2"/><circle cx="919.7" cy="69.5" r="6.2"/><circle cx="928.4" cy="62.5" r="6.2"/><circle cx="932.1" cy="65.9" r="6.2"/><circle cx="935.8" cy="73.4" r="6.2"/><circle cx="939.5" cy="82" r="6.2"/><circle cx="943.2" cy="93.2" r="6.2"/><circle cx="946.9" cy="105.6" r="6.2"/><circle cx="950.6" cy="119.2" r="6.2"/><circle cx="954.3" cy="132" r="6.2"/><circle cx="958" cy="144.7" r="6.2"/><circle cx="961.7" cy="159.5" r="6.2"/><circle cx="965.5" cy="174.8" r="6.2"/><circle cx="969.2" cy="187.6" r="6.2"/><circle cx="972.9" cy="200.3" r="6.2"/><circle cx="976.6" cy="214.4" r="6.2"/><circle cx="980.3" cy="228.9" r="6.2"/><circle cx="984" cy="243.3" r="6.2"/><circle cx="987.7" cy="257.4" r="6.2"/><circle cx="991.4" cy="270" r="6.2"/><circle cx="995.1" cy="281.4" r="6.2"/><circle cx="998.8" cy="292.8" r="6.2"/><circle cx="1002.5" cy="304.7" r="6.2"/><circle cx="1006.2" cy="315.3" r="6.2"/><circle cx="1009.9" cy="325.1" r="6.2"/><circle cx="1013.6" cy="334.4" r="6.2"/><circle cx="1017.3" cy="343.6" r="6.2"/><circle cx="1021.1" cy="352.5" r="6.2"/><circle cx="1024.8" cy="360.7" r="6.2"/><circle cx="1028.5" cy="368.4" r="6.2"/><circle cx="1032.2" cy="375.6" r="6.2"/><circle cx="1035.9" cy="382.3" r="6.2"/><circle cx="1039.6" cy="388.6" r="6.2"/><circle cx="1043.3" cy="394.4" r="6.2"/><circle cx="1047" cy="399.2" r="6.2"/><circle cx="1050.7" cy="403.4" r="6.2"/><circle cx="1054.4" cy="407.3" r="6.2"/><circle cx="1058.1" cy="411" r="6.2"/><circle cx="1061.8" cy="414.7" r="6.2"/><circle cx="1065.5" cy="418.3" r="6.2"/></g>
<path d="M753.2 522.5 L767.9 519.9 L776.8 510.4 L784.1 494.9 L793.1 480 L802 464 L810.2 436.6 L819.1 411.6 L827.2 391.7 L835.7 352.8 L844.4 311.9 L851.9 264.5 L860.2 212.1 L867.9 164.7 L877.6 127.8 L886.2 131.3 L894.8 138.3 L903.1 123.3 L912 96.9 L919.7 69.5 L928.3 62.5 L931.7 65.4 L935.1 72.1 L938.6 79.7 L942 89.5 L945.4 100.6 L948.9 112.9 L952.3 125.3 L955.7 136.8 L959.2 149 L962.6 163.3 L966 177 L969.5 188.6 L972.9 200.4 L976.3 213.5 L979.8 226.9 L983.2 240.1 L986.7 253.3 L990.1 265.5 L993.5 276.2 L997 286.6 L1000.4 297.5 L1003.8 308.1 L1007.3 317.6 L1010.7 326.5 L1014.1 335.1 L1017.6 343.6 L1021 351.7 L1024.4 359.4 L1027.9 366.5 L1031.3 373.2 L1034.7 379.5 L1038.2 385.5 L1041.6 391.1 L1045 396 L1048.5 400.1 L1051.9 403.8 L1055.3 407.3 L1058.8 410.8 L1062.2 414.2" stroke="#8c0000" stroke-width="3.0"/>
<g stroke="#8c0000" stroke-width="1.7"><circle cx="753.2" cy="522.5" r="6.2"/><circle cx="767.9" cy="519.9" r="6.2"/><circle cx="776.8" cy="510.4" r="6.2"/><circle cx="784.1" cy="494.9" r="6.2"/><circle cx="793.1" cy="480" r="6.2"/><circle cx="802" cy="464" r="6.2"/><circle cx="810.2" cy="436.6" r="6.2"/><circle cx="819.1" cy="411.6" r="6.2"/><circle cx="827.2" cy="391.7" r="6.2"/><circle cx="835.7" cy="352.8" r="6.2"/><circle cx="844.4" cy="311.9" r="6.2"/><circle cx="851.9" cy="264.5" r="6.2"/><circle cx="860.2" cy="212.1" r="6.2"/><circle cx="867.9" cy="164.7" r="6.2"/><circle cx="877.6" cy="127.8" r="6.2"/><circle cx="886.2" cy="131.3" r="6.2"/><circle cx="894.8" cy="138.3" r="6.2"/><circle cx="903.1" cy="123.3" r="6.2"/><circle cx="912" cy="96.9" r="6.2"/><circle cx="919.7" cy="69.5" r="6.2"/><circle cx="928.3" cy="62.5" r="6.2"/><circle cx="931.7" cy="65.4" r="6.2"/><circle cx="935.1" cy="72.1" r="6.2"/><circle cx="938.6" cy="79.7" r="6.2"/><circle cx="942" cy="89.5" r="6.2"/><circle cx="945.4" cy="100.6" r="6.2"/><circle cx="948.9" cy="112.9" r="6.2"/><circle cx="952.3" cy="125.3" r="6.2"/><circle cx="955.7" cy="136.8" r="6.2"/><circle cx="959.2" cy="149" r="6.2"/><circle cx="962.6" cy="163.3" r="6.2"/><circle cx="966" cy="177" r="6.2"/><circle cx="969.5" cy="188.6" r="6.2"/><circle cx="972.9" cy="200.4" r="6.2"/><circle cx="976.3" cy="213.5" r="6.2"/><circle cx="979.8" cy="226.9" r="6.2"/><circle cx="983.2" cy="240.1" r="6.2"/><circle cx="986.7" cy="253.3" r="6.2"/><circle cx="990.1" cy="265.5" r="6.2"/><circle cx="993.5" cy="276.2" r="6.2"/><circle cx="997" cy="286.6" r="6.2"/><circle cx="1000.4" cy="297.5" r="6.2"/><circle cx="1003.8" cy="308.1" r="6.2"/><circle cx="1007.3" cy="317.6" r="6.2"/><circle cx="1010.7" cy="326.5" r="6.2"/><circle cx="1014.1" cy="335.1" r="6.2"/><circle cx="1017.6" cy="343.6" r="6.2"/><circle cx="1021" cy="351.7" r="6.2"/><circle cx="1024.4" cy="359.4" r="6.2"/><circle cx="1027.9" cy="366.5" r="6.2"/><circle cx="1031.3" cy="373.2" r="6.2"/><circle cx="1034.7" cy="379.5" r="6.2"/><circle cx="1038.2" cy="385.5" r="6.2"/><circle cx="1041.6" cy="391.1" r="6.2"/><circle cx="1045" cy="396" r="6.2"/><circle cx="1048.5" cy="400.1" r="6.2"/><circle cx="1051.9" cy="403.8" r="6.2"/><circle cx="1055.3" cy="407.3" r="6.2"/><circle cx="1058.8" cy="410.8" r="6.2"/><circle cx="1062.2" cy="414.2" r="6.2"/></g>
</g>
<g stroke="#000" stroke-width="3.4" fill="none">
<rect x="730.8" y="50.6" width="1317.2" height="498.5" style="display:none"/>
<path d="M730.8 50.6 H1348 V549.1 H730.8 Z"/>
<line x1="730.8" y1="461.5" x2="754.2" y2="461.5"/>
<line x1="730.8" y1="361.8" x2="754.2" y2="361.8"/>
<line x1="730.8" y1="262" x2="754.2" y2="262"/>
<line x1="730.8" y1="162.2" x2="754.2" y2="162.2"/>
<line x1="730.8" y1="62.5" x2="754.2" y2="62.5"/>
<line x1="763" y1="549.1" x2="763" y2="526"/>
<line x1="844.3" y1="549.1" x2="844.3" y2="526"/>
<line x1="925.6" y1="549.1" x2="925.6" y2="526"/>
<line x1="1006.9" y1="549.1" x2="1006.9" y2="526"/>
<line x1="1088.2" y1="549.1" x2="1088.2" y2="526"/>
<line x1="1169.5" y1="549.1" x2="1169.5" y2="526"/>
<line x1="1250.8" y1="549.1" x2="1250.8" y2="526"/>
<line x1="1332.1" y1="549.1" x2="1332.1" y2="526"/>
</g>
<g font-family='"Liberation Sans", sans-serif' font-size="32" fill="#000">
<text x="718.3" y="471.3" text-anchor="end">0.2</text>
<text x="718.3" y="371.6" text-anchor="end">0.4</text>
<text x="718.3" y="271.8" text-anchor="end">0.6</text>
<text x="718.3" y="172.1" text-anchor="end">0.8</text>
<text x="718.3" y="72.3" text-anchor="end">1.0</text>
<text x="761.5" y="591.2" text-anchor="middle">-2</text>
<text x="842.8" y="591.2" text-anchor="middle">-1</text>
<text x="925.6" y="591.2" text-anchor="middle">0</text>
<text x="1006.9" y="591.2" text-anchor="middle">1</text>
<text x="1088.2" y="591.2" text-anchor="middle">2</text>
<text x="1169.5" y="591.2" text-anchor="middle">3</text>
<text x="1250.8" y="591.2" text-anchor="middle">4</text>
<text x="1332.1" y="591.2" text-anchor="middle">5</text>
</g>
<text x="1045" y="628.7" text-anchor="middle" font-family="'Liberation Serif', serif" font-style="italic" font-size="36">&#952;</text>
<text transform="translate(656.6 387) rotate(-90)" font-family='"Liberation Sans", sans-serif' font-size="35">&#916;S<tspan font-size="27" dy="12">M</tspan><tspan dy="-12">/&#916;S</tspan><tspan font-size="27" dy="12">M</tspan><tspan font-size="28" dy="-24.3">peak</tspan></text>
<text x="1135" y="125.5" font-family='"Liberation Sans", sans-serif' font-size="31"><tspan font-style="italic">&#956;</tspan><tspan font-size="22" dy="9.7">0</tspan><tspan dy="-9.7">&#916;</tspan><tspan font-style="italic">H</tspan> (T) =</text>
<line x1="1160.8" y1="154.6" x2="1213" y2="154.6" stroke="#660066" stroke-width="3"/>
<circle cx="1187" cy="154.6" r="7.3" fill="none" stroke="#660066" stroke-width="1.8"/>
<text x="1226" y="164.6" font-family='"Liberation Sans", sans-serif' font-size="28">1</text>
<line x1="1160.8" y1="186.8" x2="1213" y2="186.8" stroke="#0000ff" stroke-width="3"/>
<circle cx="1187" cy="186.8" r="7.3" fill="none" stroke="#0000ff" stroke-width="1.8"/>
<text x="1226" y="196.8" font-family='"Liberation Sans", sans-serif' font-size="28">1.5</text>
<line x1="1160.8" y1="219" x2="1213" y2="219" stroke="#00ff40" stroke-width="3"/>
<circle cx="1187" cy="219" r="7.3" fill="none" stroke="#00ff40" stroke-width="1.8"/>
<text x="1226" y="229" font-family='"Liberation Sans", sans-serif' font-size="28">2</text>
<line x1="1160.8" y1="251.2" x2="1213" y2="251.2" stroke="#d2ff00" stroke-width="3"/>
<circle cx="1187" cy="251.2" r="7.3" fill="none" stroke="#d2ff00" stroke-width="1.8"/>
<text x="1226" y="261.2" font-family='"Liberation Sans", sans-serif' font-size="28">2.5</text>
<line x1="1160.8" y1="283.4" x2="1213" y2="283.4" stroke="#ff5a00" stroke-width="3"/>
<circle cx="1187" cy="283.4" r="7.3" fill="none" stroke="#ff5a00" stroke-width="1.8"/>
<text x="1226" y="293.4" font-family='"Liberation Sans", sans-serif' font-size="28">3</text>
<line x1="1160.8" y1="315.6" x2="1213" y2="315.6" stroke="#ff0f14" stroke-width="3"/>
<circle cx="1187" cy="315.6" r="7.3" fill="none" stroke="#ff0f14" stroke-width="1.8"/>
<text x="1226" y="325.6" font-family='"Liberation Sans", sans-serif' font-size="28">3.5</text>
<line x1="1160.8" y1="347.8" x2="1213" y2="347.8" stroke="#ff0000" stroke-width="3"/>
<circle cx="1187" cy="347.8" r="7.3" fill="none" stroke="#ff0000" stroke-width="1.8"/>
<text x="1226" y="357.8" font-family='"Liberation Sans", sans-serif' font-size="28">4</text>
<line x1="1160.8" y1="380" x2="1213" y2="380" stroke="#d20000" stroke-width="3"/>
<circle cx="1187" cy="380" r="7.3" fill="none" stroke="#d20000" stroke-width="1.8"/>
<text x="1226" y="390" font-family='"Liberation Sans", sans-serif' font-size="28">4.5</text>
<line x1="1160.8" y1="412.2" x2="1213" y2="412.2" stroke="#8c0000" stroke-width="3"/>
<circle cx="1187" cy="412.2" r="7.3" fill="none" stroke="#8c0000" stroke-width="1.8"/>
<text x="1226" y="422.2" font-family='"Liberation Sans", sans-serif' font-size="28">5</text>
<text x="-2.5" y="26.7" font-family='"Liberation Sans", sans-serif' font-size="38">(a)</text>
<text x="611.8" y="26.7" font-family='"Liberation Sans", sans-serif' font-size="38">(b)</text>
</svg>
</body></html>
